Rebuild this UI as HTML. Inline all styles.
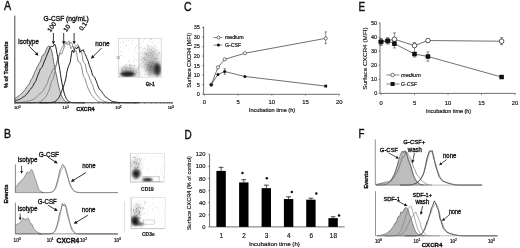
<!DOCTYPE html>
<html><head><meta charset="utf-8"><style>
html,body{margin:0;padding:0;background:#fff;}
body{width:520px;height:248px;overflow:hidden;}
svg{display:block;font-family:"Liberation Sans", sans-serif;filter:blur(0.35px);}
</style></head><body>
<svg width="520" height="248" viewBox="0 0 520 248">
<defs><filter id="b1_0" x="-50%" y="-50%" width="200%" height="200%"><feGaussianBlur stdDeviation="1.0"/></filter><filter id="b1_2" x="-50%" y="-50%" width="200%" height="200%"><feGaussianBlur stdDeviation="1.2"/></filter><filter id="b1_5" x="-50%" y="-50%" width="200%" height="200%"><feGaussianBlur stdDeviation="1.5"/></filter><filter id="b2_0" x="-50%" y="-50%" width="200%" height="200%"><feGaussianBlur stdDeviation="2.0"/></filter><filter id="b2_5" x="-50%" y="-50%" width="200%" height="200%"><feGaussianBlur stdDeviation="2.5"/></filter></defs>
<rect width="520" height="248" fill="#fff"/>
<text x="4.0" y="10.4" font-size="12.0" text-anchor="start" fill="#111" stroke="#111" stroke-width="0.4" textLength="7.2" lengthAdjust="spacingAndGlyphs">A</text>
<line x1="14.8" y1="15.7" x2="14.8" y2="102.8" stroke="#333" stroke-width="0.9"/>
<line x1="14.8" y1="102.8" x2="14.8" y2="104.39999999999999" stroke="#333" stroke-width="0.5"/>
<line x1="30.57" y1="102.8" x2="30.57" y2="103.7" stroke="#333" stroke-width="0.5"/>
<line x1="39.80" y1="102.8" x2="39.80" y2="103.7" stroke="#333" stroke-width="0.5"/>
<line x1="46.35" y1="102.8" x2="46.35" y2="103.7" stroke="#333" stroke-width="0.5"/>
<line x1="51.43" y1="102.8" x2="51.43" y2="103.7" stroke="#333" stroke-width="0.5"/>
<line x1="55.58" y1="102.8" x2="55.58" y2="103.7" stroke="#333" stroke-width="0.5"/>
<line x1="59.08" y1="102.8" x2="59.08" y2="103.7" stroke="#333" stroke-width="0.5"/>
<line x1="62.12" y1="102.8" x2="62.12" y2="103.7" stroke="#333" stroke-width="0.5"/>
<line x1="64.80" y1="102.8" x2="64.80" y2="103.7" stroke="#333" stroke-width="0.5"/>
<line x1="67.2" y1="102.8" x2="67.2" y2="104.39999999999999" stroke="#333" stroke-width="0.5"/>
<line x1="82.97" y1="102.8" x2="82.97" y2="103.7" stroke="#333" stroke-width="0.5"/>
<line x1="92.20" y1="102.8" x2="92.20" y2="103.7" stroke="#333" stroke-width="0.5"/>
<line x1="98.75" y1="102.8" x2="98.75" y2="103.7" stroke="#333" stroke-width="0.5"/>
<line x1="103.83" y1="102.8" x2="103.83" y2="103.7" stroke="#333" stroke-width="0.5"/>
<line x1="107.98" y1="102.8" x2="107.98" y2="103.7" stroke="#333" stroke-width="0.5"/>
<line x1="111.48" y1="102.8" x2="111.48" y2="103.7" stroke="#333" stroke-width="0.5"/>
<line x1="114.52" y1="102.8" x2="114.52" y2="103.7" stroke="#333" stroke-width="0.5"/>
<line x1="117.20" y1="102.8" x2="117.20" y2="103.7" stroke="#333" stroke-width="0.5"/>
<line x1="119.6" y1="102.8" x2="119.6" y2="104.39999999999999" stroke="#333" stroke-width="0.5"/>
<line x1="135.37" y1="102.8" x2="135.37" y2="103.7" stroke="#333" stroke-width="0.5"/>
<line x1="144.60" y1="102.8" x2="144.60" y2="103.7" stroke="#333" stroke-width="0.5"/>
<line x1="151.15" y1="102.8" x2="151.15" y2="103.7" stroke="#333" stroke-width="0.5"/>
<line x1="156.23" y1="102.8" x2="156.23" y2="103.7" stroke="#333" stroke-width="0.5"/>
<line x1="160.38" y1="102.8" x2="160.38" y2="103.7" stroke="#333" stroke-width="0.5"/>
<line x1="163.88" y1="102.8" x2="163.88" y2="103.7" stroke="#333" stroke-width="0.5"/>
<line x1="166.92" y1="102.8" x2="166.92" y2="103.7" stroke="#333" stroke-width="0.5"/>
<line x1="169.60" y1="102.8" x2="169.60" y2="103.7" stroke="#333" stroke-width="0.5"/>
<line x1="172.0" y1="102.8" x2="172.0" y2="104.39999999999999" stroke="#333" stroke-width="0.5"/>
<text x="14.0" y="109.3" font-size="4.2" text-anchor="start" fill="#111" stroke="#111" stroke-width="0.2">10<tspan dy="-1.4" font-size="3.02">0</tspan></text>
<text x="62.6" y="109.3" font-size="4.2" text-anchor="start" fill="#111" stroke="#111" stroke-width="0.2">10<tspan dy="-1.4" font-size="3.02">1</tspan></text>
<text x="115.2" y="109.3" font-size="4.2" text-anchor="start" fill="#111" stroke="#111" stroke-width="0.2">10<tspan dy="-1.4" font-size="3.02">2</tspan></text>
<text x="167.7" y="109.3" font-size="4.2" text-anchor="start" fill="#111" stroke="#111" stroke-width="0.2">10<tspan dy="-1.4" font-size="3.02">3</tspan></text>
<text x="76.3" y="111.3" font-size="5.5" font-weight="bold" text-anchor="start" fill="#111" stroke="#111" stroke-width="0.32" textLength="18.3" lengthAdjust="spacingAndGlyphs">CXCR4</text>
<text x="8.0" y="64.7" font-size="5.6" font-weight="bold" text-anchor="middle" fill="#111" stroke="#111" stroke-width="0.32" textLength="46.5" lengthAdjust="spacingAndGlyphs" transform="rotate(-90 8.0 64.7)">% of Total Events</text>
<path d="M15.00,98.35 L15.70,98.03 L16.40,97.59 L17.10,96.90 L17.80,96.58 L18.50,95.83 L19.20,95.57 L19.90,94.84 L20.60,94.37 L21.30,93.94 L22.00,93.01 L22.70,92.52 L23.40,91.57 L24.10,90.86 L24.80,89.73 L25.50,89.09 L26.20,87.99 L26.90,86.89 L27.60,86.15 L28.30,85.23 L29.00,84.11 L29.70,82.95 L30.40,81.33 L31.10,79.58 L31.80,78.95 L32.50,77.51 L33.20,75.71 L33.90,74.24 L34.60,72.31 L35.30,71.11 L36.00,69.99 L36.70,68.09 L37.40,66.47 L38.10,65.42 L38.80,63.95 L39.50,62.97 L40.20,61.91 L40.90,59.98 L41.60,57.74 L42.30,55.71 L43.00,55.10 L43.70,55.11 L44.40,53.53 L45.10,52.67 L45.80,50.62 L46.50,48.99 L47.20,47.44 L47.90,46.69 L48.60,45.95 L49.30,45.92 L50.00,47.17 L50.70,48.53 L51.40,50.10 L52.10,52.50 L52.80,56.78 L53.50,61.44 L54.20,64.96 L54.90,69.28 L55.60,71.65 L56.30,74.76 L57.00,77.80 L57.70,81.61 L58.40,84.98 L59.10,87.57 L59.80,90.56 L60.50,92.91 L61.20,94.87 L61.90,96.36 L62.60,97.80 L63.30,98.97 L64.00,99.87 L64.70,100.61 L65.40,101.16 L66.10,101.60 L66.80,101.94 L67.50,102.13 L68.20,102.38 L68.90,102.48 L69.60,102.55 L69.60,102.8 L15.00,102.8 Z" fill="#d0d0d0" stroke="#444" stroke-width="0.75" stroke-linejoin="round"/>
<path d="M15.00,102.68 L15.70,102.68 L16.40,102.64 L17.10,102.63 L17.80,102.55 L18.50,102.54 L19.20,102.49 L19.90,102.41 L20.60,102.40 L21.30,102.34 L22.00,102.25 L22.70,102.10 L23.40,102.04 L24.10,102.03 L24.80,101.84 L25.50,101.86 L26.20,101.63 L26.90,101.47 L27.60,101.27 L28.30,101.22 L29.00,100.84 L29.70,100.79 L30.40,100.47 L31.10,100.48 L31.80,100.08 L32.50,99.64 L33.20,99.49 L33.90,99.13 L34.60,98.71 L35.30,98.00 L36.00,97.36 L36.70,96.69 L37.40,96.04 L38.10,95.39 L38.80,94.52 L39.50,94.22 L40.20,93.77 L40.90,93.14 L41.60,92.30 L42.30,91.53 L43.00,90.26 L43.70,89.69 L44.40,88.08 L45.10,87.52 L45.80,85.86 L46.50,84.91 L47.20,83.83 L47.90,81.44 L48.60,79.13 L49.30,77.30 L50.00,75.75 L50.70,74.49 L51.40,73.09 L52.10,71.16 L52.80,69.88 L53.50,68.66 L54.20,68.49 L54.90,67.52 L55.60,65.35 L56.30,64.85 L57.00,61.29 L57.70,58.85 L58.40,56.54 L59.10,54.95 L59.80,53.00 L60.50,51.22 L61.20,49.61 L61.90,48.06 L62.60,47.03 L63.30,45.75 L64.00,43.39 L64.70,43.21 L65.40,41.69 L66.10,42.12 L66.80,43.57 L67.50,44.62 L68.20,44.35 L68.90,44.19 L69.60,44.17 L70.30,42.49 L71.00,42.37 L71.70,43.13 L72.40,44.41 L73.10,46.52 L73.80,49.02 L74.50,51.98 L75.20,51.63 L75.90,50.44 L76.60,52.81 L77.30,57.35 L78.00,61.53 L78.70,61.31 L79.40,62.08 L80.10,62.96 L80.80,64.68 L81.50,66.32 L82.20,69.96 L82.90,73.99 L83.60,76.43 L84.30,77.47 L85.00,78.64 L85.70,80.96 L86.40,83.73 L87.10,85.54 L87.80,87.58 L88.50,89.19 L89.20,90.72 L89.90,91.99 L90.60,93.49 L91.30,94.37 L92.00,95.43 L92.70,96.35 L93.40,97.41 L94.10,98.15 L94.80,98.82 L95.50,99.42 L96.20,99.93 L96.90,100.57 L97.60,101.12 L98.30,101.44 L99.00,101.67 L99.70,101.95 L100.40,102.15 L101.10,102.23 L101.80,102.41 L102.50,102.49 L103.20,102.59 L103.90,102.61 L104.60,102.66 L105.30,102.68 L106.00,102.74 L106.70,102.74 L107.40,102.76 L108.10,102.78 L108.80,102.77 L109.50,102.79 L110.20,102.79 L110.90,102.79 L111.60,102.80 L112.30,102.80 L113.00,102.79 L113.70,102.80 L114.40,102.80 L115.10,102.80 L115.80,102.80 L116.50,102.80 L117.20,102.80 L117.90,102.80 L118.60,102.80 L119.30,102.80 L120.00,102.80" fill="none" stroke="#777" stroke-width="0.85" stroke-linejoin="round"/>
<path d="M15.00,102.80 L15.70,102.80 L16.40,102.80 L17.10,102.80 L17.80,102.80 L18.50,102.80 L19.20,102.80 L19.90,102.80 L20.60,102.80 L21.30,102.80 L22.00,102.80 L22.70,102.80 L23.40,102.80 L24.10,102.80 L24.80,102.80 L25.50,102.80 L26.20,102.80 L26.90,102.80 L27.60,102.80 L28.30,102.80 L29.00,102.80 L29.70,102.80 L30.40,102.79 L31.10,102.78 L31.80,102.77 L32.50,102.77 L33.20,102.75 L33.90,102.73 L34.60,102.70 L35.30,102.65 L36.00,102.62 L36.70,102.52 L37.40,102.45 L38.10,102.35 L38.80,102.17 L39.50,101.98 L40.20,101.56 L40.90,101.34 L41.60,100.82 L42.30,100.38 L43.00,99.77 L43.70,99.00 L44.40,98.26 L45.10,97.48 L45.80,96.79 L46.50,95.48 L47.20,93.97 L47.90,92.82 L48.60,91.31 L49.30,89.89 L50.00,87.30 L50.70,84.32 L51.40,82.43 L52.10,80.64 L52.80,79.57 L53.50,76.82 L54.20,74.65 L54.90,71.49 L55.60,67.94 L56.30,65.04 L57.00,62.13 L57.70,60.42 L58.40,58.87 L59.10,55.94 L59.80,53.65 L60.50,53.61 L61.20,54.21 L61.90,53.94 L62.60,51.55 L63.30,49.76 L64.00,47.82 L64.70,45.19 L65.40,43.64 L66.10,43.63 L66.80,43.57 L67.50,42.64 L68.20,41.77 L68.90,40.72 L69.60,43.56 L70.30,46.97 L71.00,48.77 L71.70,47.78 L72.40,45.86 L73.10,47.01 L73.80,47.68 L74.50,48.12 L75.20,46.67 L75.90,45.48 L76.60,45.55 L77.30,44.58 L78.00,44.63 L78.70,46.24 L79.40,47.51 L80.10,49.04 L80.80,50.68 L81.50,52.62 L82.20,55.78 L82.90,60.17 L83.60,62.40 L84.30,62.98 L85.00,63.58 L85.70,66.03 L86.40,70.19 L87.10,72.66 L87.80,73.68 L88.50,75.13 L89.20,76.95 L89.90,79.05 L90.60,80.26 L91.30,82.49 L92.00,83.83 L92.70,85.50 L93.40,87.61 L94.10,89.89 L94.80,91.79 L95.50,93.12 L96.20,94.12 L96.90,94.90 L97.60,95.95 L98.30,96.83 L99.00,97.70 L99.70,98.48 L100.40,99.35 L101.10,99.85 L101.80,100.31 L102.50,100.71 L103.20,100.95 L103.90,101.26 L104.60,101.44 L105.30,101.66 L106.00,101.89 L106.70,102.10 L107.40,102.28 L108.10,102.39 L108.80,102.49 L109.50,102.51 L110.20,102.57 L110.90,102.62 L111.60,102.65 L112.30,102.70 L113.00,102.74 L113.70,102.74 L114.40,102.76 L115.10,102.76 L115.80,102.78 L116.50,102.79 L117.20,102.79 L117.90,102.79 L118.60,102.80 L119.30,102.79 L120.00,102.80" fill="none" stroke="#777" stroke-width="0.85" stroke-linejoin="round"/>
<path d="M15.00,100.96 L15.70,100.81 L16.40,100.40 L17.10,100.29 L17.80,100.02 L18.50,99.87 L19.20,99.41 L19.90,99.13 L20.60,98.79 L21.30,98.49 L22.00,97.83 L22.70,97.25 L23.40,96.91 L24.10,96.56 L24.80,96.14 L25.50,95.38 L26.20,94.31 L26.90,93.76 L27.60,93.28 L28.30,92.23 L29.00,91.05 L29.70,89.97 L30.40,89.36 L31.10,88.17 L31.80,87.78 L32.50,86.62 L33.20,85.48 L33.90,83.80 L34.60,82.81 L35.30,81.64 L36.00,80.65 L36.70,78.53 L37.40,76.50 L38.10,74.42 L38.80,72.96 L39.50,71.53 L40.20,69.29 L40.90,68.25 L41.60,67.69 L42.30,67.04 L43.00,64.75 L43.70,63.08 L44.40,60.98 L45.10,59.98 L45.80,57.50 L46.50,56.33 L47.20,54.17 L47.90,52.94 L48.60,50.98 L49.30,49.08 L50.00,47.78 L50.70,46.60 L51.40,46.46 L52.10,46.63 L52.80,46.37 L53.50,46.08 L54.20,44.29 L54.90,44.30 L55.60,46.24 L56.30,49.38 L57.00,53.64 L57.70,56.81 L58.40,61.74 L59.10,65.54 L59.80,69.64 L60.50,74.38 L61.20,78.63 L61.90,82.77 L62.60,86.25 L63.30,89.15 L64.00,92.55 L64.70,94.88 L65.40,96.62 L66.10,98.26 L66.80,99.31 L67.50,100.32 L68.20,100.92 L68.90,101.55 L69.60,101.89 L70.30,102.16 L71.00,102.43 L71.70,102.50 L72.40,102.65 L73.10,102.67 L73.80,102.75 L74.50,102.76 L75.20,102.76 L75.90,102.78 L76.60,102.79 L77.30,102.80 L78.00,102.80 L78.70,102.80 L79.40,102.80 L80.10,102.80 L80.80,102.80 L81.50,102.80 L82.20,102.80 L82.90,102.80 L83.60,102.80 L84.30,102.80 L85.00,102.80" fill="none" stroke="#1a1a1a" stroke-width="1.0" stroke-linejoin="round"/>
<path d="M40.00,102.80 L40.70,102.80 L41.40,102.80 L42.10,102.80 L42.80,102.80 L43.50,102.80 L44.20,102.79 L44.90,102.79 L45.60,102.79 L46.30,102.78 L47.00,102.75 L47.70,102.77 L48.40,102.74 L49.10,102.69 L49.80,102.63 L50.50,102.57 L51.20,102.49 L51.90,102.36 L52.60,102.25 L53.30,102.07 L54.00,101.88 L54.70,101.63 L55.40,101.23 L56.10,100.66 L56.80,100.16 L57.50,99.37 L58.20,98.55 L58.90,97.51 L59.60,96.25 L60.30,94.52 L61.00,93.01 L61.70,91.28 L62.40,89.06 L63.10,87.76 L63.80,85.63 L64.50,83.53 L65.20,81.09 L65.90,78.32 L66.60,73.54 L67.30,70.08 L68.00,67.77 L68.70,65.85 L69.40,64.09 L70.10,62.70 L70.80,58.53 L71.50,53.65 L72.20,50.27 L72.90,51.05 L73.60,52.62 L74.30,49.84 L75.00,48.44 L75.70,47.66 L76.40,48.50 L77.10,48.62 L77.80,46.73 L78.50,46.61 L79.20,48.75 L79.90,52.45 L80.60,51.10 L81.30,50.85 L82.00,50.02 L82.70,50.20 L83.40,49.75 L84.10,52.20 L84.80,53.59 L85.50,54.82 L86.20,56.43 L86.90,58.39 L87.60,59.82 L88.30,61.42 L89.00,64.34 L89.70,66.14 L90.40,68.54 L91.10,69.91 L91.80,72.34 L92.50,75.37 L93.20,75.87 L93.90,76.38 L94.60,77.21 L95.30,78.92 L96.00,80.53 L96.70,82.44 L97.40,84.33 L98.10,86.20 L98.80,88.09 L99.50,89.48 L100.20,89.95 L100.90,90.40 L101.60,91.34 L102.30,92.72 L103.00,93.36 L103.70,94.48 L104.40,95.57 L105.10,96.31 L105.80,97.33 L106.50,97.46 L107.20,98.00 L107.90,98.57 L108.60,99.17 L109.30,99.71 L110.00,100.06 L110.70,100.51 L111.40,101.00 L112.10,101.22 L112.80,101.40 L113.50,101.50 L114.20,101.61 L114.90,101.87 L115.60,102.00 L116.30,102.08 L117.00,102.29 L117.70,102.36 L118.40,102.38 L119.10,102.44 L119.80,102.55 L120.50,102.61 L121.20,102.64 L121.90,102.67 L122.60,102.70 L123.30,102.69 L124.00,102.74 L124.70,102.75 L125.40,102.74 L126.10,102.77 L126.80,102.77 L127.50,102.77 L128.20,102.78 L128.90,102.77 L129.60,102.79 L130.30,102.80 L131.00,102.80 L131.70,102.79 L132.40,102.80 L133.10,102.80 L133.80,102.79 L134.50,102.80 L135.20,102.80 L135.90,102.80 L136.60,102.80 L137.30,102.80 L138.00,102.80 L138.70,102.80 L139.40,102.80" fill="none" stroke="#1a1a1a" stroke-width="1.0" stroke-linejoin="round"/>
<line x1="14.8" y1="102.8" x2="173" y2="102.8" stroke="#222" stroke-width="0.9"/>
<text x="43.6" y="21.0" font-size="6.5" text-anchor="start" fill="#111" stroke="#111" stroke-width="0.32" textLength="45.2" lengthAdjust="spacingAndGlyphs">G-CSF (ng/mL)</text>
<text x="50.6" y="32.4" font-size="6.3" text-anchor="start" fill="#111" stroke="#111" stroke-width="0.32" transform="rotate(-55 50.6 32.4)">100</text>
<text x="66.4" y="32.2" font-size="6.3" text-anchor="start" fill="#111" stroke="#111" stroke-width="0.32" transform="rotate(-55 66.4 32.2)">10</text>
<text x="82.2" y="31.0" font-size="6.3" text-anchor="start" fill="#111" stroke="#111" stroke-width="0.32" transform="rotate(-55 82.2 31.0)">0.1</text>
<line x1="53.4" y1="33.0" x2="53.40" y2="41.64" stroke="#111" stroke-width="0.84"/>
<polygon points="53.40,44.50 51.79,41.14 55.01,41.14" fill="#111"/>
<line x1="63.7" y1="33.0" x2="63.70" y2="41.64" stroke="#111" stroke-width="0.84"/>
<polygon points="63.70,44.50 62.09,41.14 65.31,41.14" fill="#111"/>
<line x1="74.1" y1="33.0" x2="74.10" y2="41.64" stroke="#111" stroke-width="0.84"/>
<polygon points="74.10,44.50 72.49,41.14 75.71,41.14" fill="#111"/>
<text x="18.0" y="43.75" font-size="6.5" text-anchor="start" fill="#111" stroke="#111" stroke-width="0.32" textLength="20.8" lengthAdjust="spacingAndGlyphs">Isotype</text>
<line x1="29.5" y1="46.5" x2="36.36" y2="53.58" stroke="#111" stroke-width="0.84"/>
<polygon points="38.50,55.80 34.77,54.42 37.25,52.02" fill="#111"/>
<text x="95.3" y="45.8" font-size="6.8" text-anchor="start" fill="#111" stroke="#111" stroke-width="0.32" textLength="14.3" lengthAdjust="spacingAndGlyphs">none</text>
<line x1="101.5" y1="48.1" x2="93.07" y2="56.61" stroke="#111" stroke-width="0.84"/>
<polygon points="90.90,58.80 92.20,55.04 94.65,57.47" fill="#111"/>
<clipPath id="ca"><rect x="118.5" y="38.5" width="42.7" height="38.6"/></clipPath>
<rect x="118.5" y="38.5" width="42.7" height="38.6" fill="#fff" stroke="#bbb" stroke-width="0.5"/>
<g clip-path="url(#ca)"><ellipse cx="151" cy="61" rx="9" ry="13" fill="#000" fill-opacity="0.2" filter="url(#b2_5)"/></g>
<g clip-path="url(#ca)"><ellipse cx="129" cy="72" rx="9" ry="4.5" fill="#000" fill-opacity="0.35" filter="url(#b2_5)"/></g>
<g clip-path="url(#ca)"><ellipse cx="127.5" cy="74.2" rx="7.0" ry="2.6" fill="#000" fill-opacity="0.85" filter="url(#b1_2)"/></g>
<g clip-path="url(#ca)"><ellipse cx="157.5" cy="69.5" rx="3.5" ry="6.5" fill="#000" fill-opacity="0.8" filter="url(#b1_5)"/></g>
<g clip-path="url(#ca)"><ellipse cx="152" cy="68" rx="5" ry="7" fill="#000" fill-opacity="0.35" filter="url(#b2_0)"/></g>
<g clip-path="url(#ca)">
<circle cx="125.9" cy="64.9" r="0.3" fill="#888"/>
<circle cx="145.5" cy="57.0" r="0.3" fill="#888"/>
<circle cx="128.0" cy="68.7" r="0.3" fill="#888"/>
<circle cx="152.7" cy="58.2" r="0.3" fill="#888"/>
<circle cx="140.1" cy="47.9" r="0.3" fill="#888"/>
<circle cx="119.1" cy="52.9" r="0.3" fill="#888"/>
<circle cx="143.4" cy="41.6" r="0.3" fill="#888"/>
<circle cx="152.1" cy="47.7" r="0.3" fill="#888"/>
<circle cx="128.7" cy="40.6" r="0.3" fill="#888"/>
<circle cx="160.6" cy="66.7" r="0.3" fill="#888"/>
<circle cx="155.5" cy="62.1" r="0.3" fill="#888"/>
<circle cx="120.4" cy="51.3" r="0.3" fill="#888"/>
<circle cx="139.7" cy="43.3" r="0.3" fill="#888"/>
<circle cx="158.7" cy="52.8" r="0.3" fill="#888"/>
<circle cx="125.5" cy="69.7" r="0.3" fill="#888"/>
<circle cx="124.2" cy="73.8" r="0.3" fill="#888"/>
<circle cx="137.9" cy="59.7" r="0.3" fill="#888"/>
<circle cx="133.3" cy="57.2" r="0.3" fill="#888"/>
<circle cx="126.8" cy="40.4" r="0.3" fill="#888"/>
<circle cx="155.1" cy="47.8" r="0.3" fill="#888"/>
<circle cx="151.5" cy="46.8" r="0.3" fill="#888"/>
<circle cx="159.4" cy="72.5" r="0.3" fill="#888"/>
<circle cx="150.5" cy="67.6" r="0.3" fill="#888"/>
<circle cx="143.2" cy="66.4" r="0.3" fill="#888"/>
<circle cx="124.1" cy="56.9" r="0.3" fill="#888"/>
<circle cx="153.5" cy="46.5" r="0.3" fill="#888"/>
<circle cx="157.5" cy="72.3" r="0.3" fill="#888"/>
<circle cx="136.1" cy="52.7" r="0.3" fill="#888"/>
<circle cx="137.8" cy="53.5" r="0.3" fill="#888"/>
<circle cx="160.5" cy="53.5" r="0.3" fill="#888"/>
<circle cx="120.1" cy="42.5" r="0.3" fill="#888"/>
<circle cx="148.9" cy="76.2" r="0.3" fill="#888"/>
<circle cx="139.7" cy="57.4" r="0.3" fill="#888"/>
<circle cx="142.0" cy="67.1" r="0.3" fill="#888"/>
<circle cx="128.3" cy="61.8" r="0.3" fill="#888"/>
<circle cx="142.2" cy="62.3" r="0.3" fill="#888"/>
<circle cx="126.5" cy="45.4" r="0.3" fill="#888"/>
<circle cx="133.5" cy="73.8" r="0.3" fill="#888"/>
<circle cx="133.5" cy="61.4" r="0.3" fill="#888"/>
<circle cx="131.8" cy="42.9" r="0.3" fill="#888"/>
<circle cx="121.7" cy="69.5" r="0.3" fill="#888"/>
<circle cx="151.4" cy="53.1" r="0.3" fill="#888"/>
<circle cx="147.5" cy="64.3" r="0.3" fill="#888"/>
<circle cx="156.5" cy="74.9" r="0.3" fill="#888"/>
<circle cx="136.0" cy="76.1" r="0.3" fill="#888"/>
<circle cx="159.1" cy="61.1" r="0.3" fill="#888"/>
<circle cx="155.8" cy="57.4" r="0.3" fill="#888"/>
<circle cx="134.7" cy="48.3" r="0.3" fill="#888"/>
<circle cx="155.5" cy="45.1" r="0.3" fill="#888"/>
<circle cx="121.9" cy="69.2" r="0.3" fill="#888"/>
<circle cx="151.3" cy="57.1" r="0.3" fill="#888"/>
<circle cx="153.9" cy="41.0" r="0.3" fill="#888"/>
<circle cx="129.8" cy="49.9" r="0.3" fill="#888"/>
<circle cx="136.5" cy="45.4" r="0.3" fill="#888"/>
<circle cx="121.9" cy="51.7" r="0.3" fill="#888"/>
<circle cx="156.5" cy="75.9" r="0.3" fill="#888"/>
<circle cx="150.1" cy="57.0" r="0.3" fill="#888"/>
<circle cx="129.5" cy="75.0" r="0.3" fill="#888"/>
<circle cx="140.9" cy="66.3" r="0.3" fill="#888"/>
<circle cx="120.2" cy="47.0" r="0.3" fill="#888"/>
<circle cx="154.0" cy="68.8" r="0.3" fill="#888"/>
<circle cx="155.8" cy="61.6" r="0.3" fill="#888"/>
<circle cx="136.8" cy="60.8" r="0.3" fill="#888"/>
<circle cx="154.4" cy="50.5" r="0.3" fill="#888"/>
<circle cx="141.3" cy="49.3" r="0.3" fill="#888"/>
<circle cx="151.0" cy="39.4" r="0.3" fill="#888"/>
<circle cx="147.6" cy="74.8" r="0.3" fill="#888"/>
<circle cx="120.0" cy="61.3" r="0.3" fill="#888"/>
<circle cx="145.8" cy="70.9" r="0.3" fill="#888"/>
<circle cx="143.4" cy="48.6" r="0.3" fill="#888"/>
<circle cx="135.9" cy="75.0" r="0.3" fill="#888"/>
<circle cx="156.8" cy="44.0" r="0.3" fill="#888"/>
<circle cx="123.0" cy="42.5" r="0.3" fill="#888"/>
<circle cx="120.1" cy="55.8" r="0.3" fill="#888"/>
<circle cx="124.9" cy="71.5" r="0.3" fill="#888"/>
<circle cx="146.3" cy="43.7" r="0.3" fill="#888"/>
<circle cx="141.5" cy="51.2" r="0.3" fill="#888"/>
<circle cx="139.6" cy="47.2" r="0.3" fill="#888"/>
<circle cx="125.9" cy="45.9" r="0.3" fill="#888"/>
<circle cx="134.8" cy="65.6" r="0.3" fill="#888"/>
<circle cx="141.9" cy="40.7" r="0.3" fill="#888"/>
<circle cx="148.6" cy="71.8" r="0.3" fill="#888"/>
<circle cx="151.3" cy="68.7" r="0.3" fill="#888"/>
<circle cx="119.3" cy="56.4" r="0.3" fill="#888"/>
<circle cx="121.6" cy="67.6" r="0.3" fill="#888"/>
<circle cx="126.3" cy="65.7" r="0.3" fill="#888"/>
<circle cx="129.5" cy="65.1" r="0.3" fill="#888"/>
<circle cx="132.1" cy="40.6" r="0.3" fill="#888"/>
<circle cx="135.2" cy="50.6" r="0.3" fill="#888"/>
<circle cx="156.6" cy="50.1" r="0.3" fill="#888"/>
<circle cx="140.0" cy="59.6" r="0.3" fill="#888"/>
<circle cx="158.5" cy="42.7" r="0.3" fill="#888"/>
<circle cx="144.1" cy="58.1" r="0.3" fill="#888"/>
<circle cx="149.6" cy="75.3" r="0.3" fill="#888"/>
<circle cx="131.9" cy="65.2" r="0.3" fill="#888"/>
<circle cx="140.9" cy="60.0" r="0.3" fill="#888"/>
<circle cx="121.7" cy="69.6" r="0.3" fill="#888"/>
<circle cx="159.7" cy="52.3" r="0.3" fill="#888"/>
<circle cx="132.3" cy="76.2" r="0.3" fill="#888"/>
<circle cx="123.5" cy="41.9" r="0.3" fill="#888"/>
<circle cx="122.1" cy="69.5" r="0.3" fill="#888"/>
<circle cx="150.7" cy="55.8" r="0.3" fill="#888"/>
<circle cx="144.9" cy="39.7" r="0.3" fill="#888"/>
<circle cx="145.9" cy="55.6" r="0.3" fill="#888"/>
<circle cx="140.6" cy="53.6" r="0.3" fill="#888"/>
<circle cx="135.7" cy="47.5" r="0.3" fill="#888"/>
<circle cx="121.0" cy="55.3" r="0.3" fill="#888"/>
<circle cx="129.3" cy="65.4" r="0.3" fill="#888"/>
<circle cx="153.1" cy="66.1" r="0.3" fill="#888"/>
<circle cx="138.0" cy="47.9" r="0.3" fill="#888"/>
<circle cx="147.3" cy="45.3" r="0.3" fill="#555"/>
<circle cx="153.1" cy="74.6" r="0.3" fill="#555"/>
<circle cx="158.5" cy="70.3" r="0.3" fill="#555"/>
<circle cx="155.5" cy="73.5" r="0.3" fill="#555"/>
<circle cx="148.4" cy="46.9" r="0.3" fill="#555"/>
<circle cx="138.8" cy="68.5" r="0.3" fill="#555"/>
<circle cx="153.0" cy="61.7" r="0.3" fill="#555"/>
<circle cx="135.0" cy="59.6" r="0.3" fill="#555"/>
<circle cx="149.6" cy="52.3" r="0.3" fill="#555"/>
<circle cx="158.7" cy="69.8" r="0.3" fill="#555"/>
<circle cx="151.9" cy="57.6" r="0.3" fill="#555"/>
<circle cx="147.6" cy="68.8" r="0.3" fill="#555"/>
<circle cx="144.5" cy="59.8" r="0.3" fill="#555"/>
<circle cx="152.5" cy="63.7" r="0.3" fill="#555"/>
<circle cx="144.5" cy="48.1" r="0.3" fill="#555"/>
<circle cx="153.0" cy="56.5" r="0.3" fill="#555"/>
<circle cx="149.4" cy="41.6" r="0.3" fill="#555"/>
<circle cx="155.8" cy="67.8" r="0.3" fill="#555"/>
<circle cx="151.9" cy="66.1" r="0.3" fill="#555"/>
<circle cx="141.1" cy="63.7" r="0.3" fill="#555"/>
<circle cx="153.1" cy="61.2" r="0.3" fill="#555"/>
<circle cx="129.3" cy="60.9" r="0.3" fill="#555"/>
<circle cx="150.7" cy="51.0" r="0.3" fill="#555"/>
<circle cx="150.4" cy="74.7" r="0.3" fill="#555"/>
<circle cx="149.4" cy="74.9" r="0.3" fill="#555"/>
<circle cx="146.4" cy="54.8" r="0.3" fill="#555"/>
<circle cx="151.7" cy="53.2" r="0.3" fill="#555"/>
<circle cx="138.9" cy="65.3" r="0.3" fill="#555"/>
<circle cx="150.0" cy="67.8" r="0.3" fill="#555"/>
<circle cx="144.3" cy="57.7" r="0.3" fill="#555"/>
<circle cx="153.2" cy="57.2" r="0.3" fill="#555"/>
<circle cx="148.6" cy="64.2" r="0.3" fill="#555"/>
<circle cx="145.1" cy="64.4" r="0.3" fill="#555"/>
<circle cx="140.3" cy="66.8" r="0.3" fill="#555"/>
<circle cx="147.4" cy="46.0" r="0.3" fill="#555"/>
<circle cx="142.4" cy="59.2" r="0.3" fill="#555"/>
<circle cx="144.9" cy="66.9" r="0.3" fill="#555"/>
<circle cx="150.9" cy="69.5" r="0.3" fill="#555"/>
<circle cx="148.5" cy="69.8" r="0.3" fill="#555"/>
<circle cx="159.0" cy="53.1" r="0.3" fill="#555"/>
<circle cx="149.3" cy="60.7" r="0.3" fill="#555"/>
<circle cx="149.4" cy="73.2" r="0.3" fill="#555"/>
<circle cx="147.8" cy="53.2" r="0.3" fill="#555"/>
<circle cx="141.2" cy="47.5" r="0.3" fill="#555"/>
<circle cx="149.4" cy="70.8" r="0.3" fill="#555"/>
<circle cx="150.3" cy="54.1" r="0.3" fill="#555"/>
<circle cx="148.9" cy="53.1" r="0.3" fill="#555"/>
<circle cx="156.6" cy="63.2" r="0.3" fill="#555"/>
<circle cx="159.6" cy="68.5" r="0.3" fill="#555"/>
<circle cx="154.1" cy="52.9" r="0.3" fill="#555"/>
<circle cx="153.3" cy="58.3" r="0.3" fill="#555"/>
<circle cx="146.5" cy="63.9" r="0.3" fill="#555"/>
<circle cx="160.7" cy="67.1" r="0.3" fill="#555"/>
<circle cx="141.3" cy="57.1" r="0.3" fill="#555"/>
<circle cx="150.8" cy="57.9" r="0.3" fill="#555"/>
<circle cx="151.4" cy="66.5" r="0.3" fill="#555"/>
<circle cx="147.6" cy="61.9" r="0.3" fill="#555"/>
<circle cx="152.1" cy="51.9" r="0.3" fill="#555"/>
<circle cx="148.7" cy="55.4" r="0.3" fill="#555"/>
<circle cx="146.3" cy="53.8" r="0.3" fill="#555"/>
<circle cx="146.3" cy="54.6" r="0.3" fill="#555"/>
<circle cx="152.7" cy="54.9" r="0.3" fill="#555"/>
<circle cx="151.3" cy="66.8" r="0.3" fill="#555"/>
<circle cx="150.9" cy="74.4" r="0.3" fill="#555"/>
<circle cx="150.0" cy="69.7" r="0.3" fill="#555"/>
<circle cx="149.9" cy="49.7" r="0.3" fill="#555"/>
<circle cx="154.2" cy="59.8" r="0.3" fill="#555"/>
<circle cx="149.7" cy="65.2" r="0.3" fill="#555"/>
<circle cx="143.7" cy="58.0" r="0.3" fill="#555"/>
<circle cx="144.5" cy="74.8" r="0.3" fill="#555"/>
<circle cx="148.7" cy="57.1" r="0.3" fill="#555"/>
<circle cx="153.5" cy="63.6" r="0.3" fill="#555"/>
<circle cx="154.0" cy="48.7" r="0.3" fill="#555"/>
<circle cx="150.6" cy="68.5" r="0.3" fill="#555"/>
<circle cx="146.8" cy="74.7" r="0.3" fill="#555"/>
<circle cx="150.0" cy="55.4" r="0.3" fill="#555"/>
<circle cx="147.9" cy="67.8" r="0.3" fill="#555"/>
<circle cx="157.2" cy="58.2" r="0.3" fill="#555"/>
<circle cx="154.2" cy="59.5" r="0.3" fill="#555"/>
<circle cx="144.8" cy="53.4" r="0.3" fill="#555"/>
<circle cx="155.2" cy="58.4" r="0.3" fill="#555"/>
<circle cx="156.8" cy="58.9" r="0.3" fill="#555"/>
<circle cx="148.7" cy="65.3" r="0.3" fill="#555"/>
<circle cx="137.2" cy="69.0" r="0.3" fill="#555"/>
<circle cx="145.9" cy="69.7" r="0.3" fill="#555"/>
<circle cx="145.9" cy="59.4" r="0.3" fill="#555"/>
<circle cx="155.6" cy="68.9" r="0.3" fill="#555"/>
<circle cx="153.9" cy="51.6" r="0.3" fill="#555"/>
<circle cx="147.5" cy="66.6" r="0.3" fill="#555"/>
<circle cx="147.4" cy="48.9" r="0.3" fill="#555"/>
<circle cx="150.7" cy="66.8" r="0.3" fill="#555"/>
<circle cx="158.5" cy="73.1" r="0.3" fill="#555"/>
<circle cx="155.4" cy="54.8" r="0.3" fill="#555"/>
<circle cx="142.8" cy="52.9" r="0.3" fill="#555"/>
<circle cx="154.0" cy="71.1" r="0.3" fill="#555"/>
<circle cx="138.5" cy="67.8" r="0.3" fill="#555"/>
<circle cx="155.2" cy="71.6" r="0.3" fill="#555"/>
<circle cx="151.9" cy="59.7" r="0.3" fill="#555"/>
<circle cx="149.4" cy="62.1" r="0.3" fill="#555"/>
<circle cx="143.1" cy="61.4" r="0.3" fill="#555"/>
<circle cx="156.7" cy="59.4" r="0.3" fill="#555"/>
<circle cx="158.2" cy="54.2" r="0.3" fill="#555"/>
<circle cx="153.0" cy="55.0" r="0.3" fill="#555"/>
<circle cx="157.0" cy="69.3" r="0.3" fill="#555"/>
<circle cx="156.4" cy="70.2" r="0.3" fill="#555"/>
<circle cx="153.5" cy="73.1" r="0.3" fill="#555"/>
<circle cx="151.6" cy="39.2" r="0.3" fill="#555"/>
<circle cx="151.1" cy="67.3" r="0.3" fill="#555"/>
<circle cx="135.8" cy="73.6" r="0.3" fill="#555"/>
<circle cx="149.8" cy="72.2" r="0.3" fill="#555"/>
<circle cx="148.4" cy="64.2" r="0.3" fill="#555"/>
<circle cx="145.0" cy="60.1" r="0.3" fill="#555"/>
<circle cx="140.3" cy="64.8" r="0.3" fill="#555"/>
<circle cx="147.8" cy="56.1" r="0.3" fill="#555"/>
<circle cx="145.5" cy="53.1" r="0.3" fill="#555"/>
<circle cx="150.0" cy="61.3" r="0.3" fill="#555"/>
<circle cx="148.3" cy="75.2" r="0.3" fill="#555"/>
<circle cx="143.3" cy="58.2" r="0.3" fill="#555"/>
<circle cx="141.8" cy="59.7" r="0.3" fill="#555"/>
<circle cx="149.0" cy="45.0" r="0.3" fill="#555"/>
<circle cx="152.3" cy="42.7" r="0.3" fill="#555"/>
<circle cx="146.7" cy="59.5" r="0.3" fill="#555"/>
<circle cx="141.8" cy="75.1" r="0.3" fill="#555"/>
<circle cx="151.2" cy="49.6" r="0.3" fill="#555"/>
<circle cx="119.8" cy="76.4" r="0.3" fill="#555"/>
<circle cx="129.9" cy="67.7" r="0.3" fill="#555"/>
<circle cx="132.9" cy="65.9" r="0.3" fill="#555"/>
<circle cx="139.9" cy="72.6" r="0.3" fill="#555"/>
<circle cx="127.8" cy="73.4" r="0.3" fill="#555"/>
<circle cx="122.1" cy="72.4" r="0.3" fill="#555"/>
<circle cx="133.4" cy="74.3" r="0.3" fill="#555"/>
<circle cx="131.0" cy="65.8" r="0.3" fill="#555"/>
<circle cx="129.9" cy="64.6" r="0.3" fill="#555"/>
<circle cx="129.4" cy="67.7" r="0.3" fill="#555"/>
<circle cx="124.4" cy="73.5" r="0.3" fill="#555"/>
<circle cx="126.5" cy="68.6" r="0.3" fill="#555"/>
<circle cx="123.5" cy="67.9" r="0.3" fill="#555"/>
<circle cx="129.1" cy="72.2" r="0.3" fill="#555"/>
<circle cx="126.1" cy="70.4" r="0.3" fill="#555"/>
<circle cx="122.5" cy="68.1" r="0.3" fill="#555"/>
<circle cx="135.1" cy="75.8" r="0.3" fill="#555"/>
<circle cx="131.0" cy="70.6" r="0.3" fill="#555"/>
<circle cx="129.4" cy="67.4" r="0.3" fill="#555"/>
<circle cx="122.3" cy="72.3" r="0.3" fill="#555"/>
<circle cx="122.6" cy="71.8" r="0.3" fill="#555"/>
<circle cx="122.3" cy="69.9" r="0.3" fill="#555"/>
<circle cx="136.6" cy="72.6" r="0.3" fill="#555"/>
<circle cx="127.7" cy="71.2" r="0.3" fill="#555"/>
<circle cx="120.3" cy="74.0" r="0.3" fill="#555"/>
<circle cx="124.2" cy="66.8" r="0.3" fill="#555"/>
<circle cx="124.5" cy="70.4" r="0.3" fill="#555"/>
<circle cx="124.6" cy="67.5" r="0.3" fill="#555"/>
<circle cx="130.4" cy="70.8" r="0.3" fill="#555"/>
<circle cx="134.3" cy="73.3" r="0.3" fill="#555"/>
<circle cx="134.2" cy="65.5" r="0.3" fill="#555"/>
<circle cx="128.5" cy="72.2" r="0.3" fill="#555"/>
<circle cx="132.6" cy="68.8" r="0.3" fill="#555"/>
<circle cx="131.2" cy="74.5" r="0.3" fill="#555"/>
<circle cx="123.4" cy="66.6" r="0.3" fill="#555"/>
<circle cx="123.9" cy="71.0" r="0.3" fill="#555"/>
<circle cx="122.5" cy="70.1" r="0.3" fill="#555"/>
<circle cx="125.7" cy="66.0" r="0.3" fill="#555"/>
<circle cx="134.4" cy="74.3" r="0.3" fill="#555"/>
<circle cx="120.1" cy="73.6" r="0.3" fill="#555"/>
<circle cx="126.3" cy="65.0" r="0.3" fill="#555"/>
<circle cx="125.2" cy="68.2" r="0.3" fill="#555"/>
<circle cx="136.2" cy="70.7" r="0.3" fill="#555"/>
<circle cx="127.9" cy="71.9" r="0.3" fill="#555"/>
<circle cx="130.5" cy="65.0" r="0.3" fill="#555"/>
<circle cx="133.9" cy="71.0" r="0.3" fill="#555"/>
<circle cx="126.5" cy="69.0" r="0.3" fill="#555"/>
<circle cx="127.1" cy="67.8" r="0.3" fill="#555"/>
<circle cx="125.3" cy="72.4" r="0.3" fill="#555"/>
<circle cx="133.6" cy="73.0" r="0.3" fill="#555"/>
<circle cx="126.8" cy="67.4" r="0.3" fill="#555"/>
<circle cx="130.4" cy="68.5" r="0.3" fill="#555"/>
<circle cx="137.8" cy="74.0" r="0.3" fill="#555"/>
<circle cx="126.6" cy="72.1" r="0.3" fill="#555"/>
</g>
<line x1="139" y1="38.5" x2="139" y2="77.1" stroke="#aaa" stroke-width="0.6"/>
<text x="116.3" y="59.0" font-size="3.0" text-anchor="start" fill="#777" stroke="#777" stroke-width="0.05">10</text>
<text x="145.8" y="85.6" font-size="4.8" font-weight="bold" text-anchor="start" fill="#111" stroke="#111" stroke-width="0.32" textLength="9.0" lengthAdjust="spacingAndGlyphs">Gr-1</text>
<text x="4.0" y="138.4" font-size="12.0" text-anchor="start" fill="#111" stroke="#111" stroke-width="0.45" textLength="7.0" lengthAdjust="spacingAndGlyphs">B</text>
<text x="8.2" y="194.0" font-size="5.6" font-weight="bold" text-anchor="middle" fill="#111" stroke="#111" stroke-width="0.32" textLength="19.0" lengthAdjust="spacingAndGlyphs" transform="rotate(-90 8.2 194.0)">Events</text>
<line x1="15.4" y1="164.3" x2="15.4" y2="192.6" stroke="#555" stroke-width="0.7"/>
<path d="M15.40,186.53 L16.10,186.30 L16.80,185.41 L17.50,184.54 L18.20,183.98 L18.90,182.95 L19.60,182.84 L20.30,181.69 L21.00,180.80 L21.70,179.94 L22.40,179.32 L23.10,178.77 L23.80,178.17 L24.50,176.99 L25.20,175.43 L25.90,174.23 L26.60,172.60 L27.30,172.06 L28.00,172.48 L28.70,173.58 L29.40,172.14 L30.10,170.94 L30.80,170.12 L31.50,169.45 L32.20,170.08 L32.90,171.47 L33.60,174.30 L34.30,175.78 L35.00,178.37 L35.70,179.69 L36.40,181.87 L37.10,184.30 L37.80,186.50 L38.50,188.44 L39.20,189.90 L39.90,190.80 L40.60,191.24 L41.30,191.68 L42.00,192.07 L42.70,192.29 L43.40,192.37 L43.40,192.6 L15.40,192.6 Z" fill="#c4c4c4" stroke="#666" stroke-width="0.6" stroke-linejoin="round"/>
<path d="M41.00,192.60 L41.70,192.60 L42.40,192.60 L43.10,192.60 L43.80,192.60 L44.50,192.60 L45.20,192.60 L45.90,192.60 L46.60,192.60 L47.30,192.59 L48.00,192.57 L48.70,192.55 L49.40,192.51 L50.10,192.44 L50.80,192.35 L51.50,192.16 L52.20,191.86 L52.90,191.28 L53.60,190.73 L54.30,189.70 L55.00,188.72 L55.70,187.04 L56.40,184.84 L57.10,182.20 L57.80,179.26 L58.50,176.48 L59.20,173.55 L59.90,170.32 L60.60,168.73 L61.30,167.78 L62.00,165.63 L62.70,164.40 L63.40,165.05 L64.10,166.20 L64.80,167.41 L65.50,169.76 L66.20,172.18 L66.90,174.40 L67.60,176.81 L68.30,178.84 L69.00,181.31 L69.70,183.55 L70.40,185.40 L71.10,187.09 L71.80,188.38 L72.50,189.40 L73.20,190.38 L73.90,190.91 L74.60,191.43 L75.30,191.72 L76.00,192.04 L76.70,192.24 L77.40,192.37 L78.10,192.44 L78.80,192.53 L79.50,192.55 L80.20,192.56 L80.90,192.59 L81.60,192.58 L82.30,192.59 L83.00,192.60 L83.70,192.60 L84.40,192.60 L85.10,192.60 L85.80,192.60 L86.50,192.60 L87.20,192.60 L87.90,192.60 L88.60,192.60 L89.30,192.60 L90.00,192.60 L90.70,192.60 L91.40,192.60 L92.10,192.60 L92.80,192.60 L93.50,192.60 L94.20,192.60 L94.90,192.60 L95.60,192.60 L96.30,192.60 L97.00,192.60 L97.70,192.60 L98.40,192.60 L99.10,192.60 L99.80,192.60 L100.50,192.60 L101.20,192.60 L101.90,192.60 L102.60,192.60 L103.30,192.60 L104.00,192.60 L104.70,192.60 L105.40,192.60 L106.10,192.60 L106.80,192.60 L107.50,192.60 L108.20,192.60 L108.90,192.60 L109.60,192.60 L110.30,192.60 L111.00,192.60 L111.70,192.60 L112.40,192.60 L113.10,192.60 L113.80,192.60 L114.50,192.60 L115.20,192.60 L115.90,192.60 L116.60,192.60 L117.30,192.60 L118.00,192.60" fill="none" stroke="#555" stroke-width="0.75" stroke-linejoin="round"/>
<path d="M41.00,192.60 L41.70,192.60 L42.40,192.60 L43.10,192.60 L43.80,192.60 L44.50,192.60 L45.20,192.60 L45.90,192.60 L46.60,192.60 L47.30,192.59 L48.00,192.58 L48.70,192.56 L49.40,192.55 L50.10,192.51 L50.80,192.41 L51.50,192.26 L52.20,192.03 L52.90,191.69 L53.60,191.22 L54.30,190.53 L55.00,189.52 L55.70,188.38 L56.40,186.84 L57.10,184.84 L57.80,182.08 L58.50,179.78 L59.20,176.99 L59.90,174.34 L60.60,171.96 L61.30,170.35 L62.00,169.36 L62.70,168.23 L63.40,166.82 L64.10,166.54 L64.80,167.08 L65.50,168.37 L66.20,170.36 L66.90,173.00 L67.60,175.56 L68.30,178.36 L69.00,180.81 L69.70,182.91 L70.40,184.71 L71.10,186.20 L71.80,187.44 L72.50,188.56 L73.20,189.75 L73.90,190.55 L74.60,191.11 L75.30,191.63 L76.00,191.92 L76.70,192.14 L77.40,192.27 L78.10,192.41 L78.80,192.51 L79.50,192.54 L80.20,192.56 L80.90,192.58 L81.60,192.58 L82.30,192.60 L83.00,192.60 L83.70,192.60 L84.40,192.60 L85.10,192.60 L85.80,192.60 L86.50,192.60 L87.20,192.60 L87.90,192.60 L88.60,192.60 L89.30,192.60 L90.00,192.60 L90.70,192.60 L91.40,192.60 L92.10,192.60 L92.80,192.60 L93.50,192.60 L94.20,192.60 L94.90,192.60 L95.60,192.60 L96.30,192.60 L97.00,192.60 L97.70,192.60 L98.40,192.60 L99.10,192.60 L99.80,192.60 L100.50,192.60 L101.20,192.60 L101.90,192.60 L102.60,192.60 L103.30,192.60 L104.00,192.60 L104.70,192.60 L105.40,192.60 L106.10,192.60 L106.80,192.60 L107.50,192.60 L108.20,192.60 L108.90,192.60 L109.60,192.60 L110.30,192.60 L111.00,192.60 L111.70,192.60 L112.40,192.60 L113.10,192.60 L113.80,192.60 L114.50,192.60 L115.20,192.60 L115.90,192.60 L116.60,192.60 L117.30,192.60 L118.00,192.60" fill="none" stroke="#888" stroke-width="0.6" stroke-linejoin="round"/>
<text x="17.4" y="162.4" font-size="6.6" text-anchor="start" fill="#111" stroke="#111" stroke-width="0.32" textLength="20.2" lengthAdjust="spacingAndGlyphs">Isotype</text>
<line x1="21.6" y1="165.8" x2="21.60" y2="171.39" stroke="#111" stroke-width="0.72"/>
<polygon points="21.60,173.80 20.22,170.89 22.98,170.89" fill="#111"/>
<text x="38.8" y="156.7" font-size="6.4" text-anchor="start" fill="#111" stroke="#111" stroke-width="0.32" textLength="20.2" lengthAdjust="spacingAndGlyphs">G-CSF</text>
<line x1="48.1" y1="157.3" x2="55.33" y2="161.87" stroke="#111" stroke-width="0.84"/>
<polygon points="57.75,163.40 53.99,163.06 55.83,160.15" fill="#111"/>
<text x="82.3" y="167.7" font-size="6.8" text-anchor="start" fill="#111" stroke="#111" stroke-width="0.32" textLength="13.3" lengthAdjust="spacingAndGlyphs">none</text>
<line x1="85.9" y1="172.7" x2="73.44" y2="180.21" stroke="#111" stroke-width="0.84"/>
<polygon points="70.80,181.80 72.98,178.47 74.76,181.43" fill="#111"/>
<line x1="15.4" y1="202.7" x2="15.4" y2="233.9" stroke="#555" stroke-width="0.7"/>
<path d="M15.40,225.90 L16.10,225.43 L16.80,224.32 L17.50,224.01 L18.20,223.52 L18.90,223.27 L19.60,222.66 L20.30,222.17 L21.00,221.83 L21.70,220.77 L22.40,219.53 L23.10,217.87 L23.80,218.93 L24.50,219.02 L25.20,219.09 L25.90,220.12 L26.60,218.99 L27.30,218.03 L28.00,218.29 L28.70,218.86 L29.40,220.28 L30.10,223.11 L30.80,224.17 L31.50,223.66 L32.20,224.86 L32.90,226.35 L33.60,228.31 L34.30,229.08 L35.00,229.96 L35.70,230.74 L36.40,231.43 L37.10,231.83 L37.80,232.15 L38.50,232.58 L39.20,233.04 L39.90,233.23 L40.60,233.46 L41.30,233.64 L42.00,233.65 L42.00,233.9 L15.40,233.9 Z" fill="#c4c4c4" stroke="#666" stroke-width="0.6" stroke-linejoin="round"/>
<path d="M38.00,233.90 L38.70,233.90 L39.40,233.90 L40.10,233.90 L40.80,233.90 L41.50,233.90 L42.20,233.90 L42.90,233.90 L43.60,233.90 L44.30,233.90 L45.00,233.90 L45.70,233.90 L46.40,233.90 L47.10,233.90 L47.80,233.89 L48.50,233.87 L49.20,233.83 L49.90,233.81 L50.60,233.73 L51.30,233.61 L52.00,233.33 L52.70,233.10 L53.40,232.65 L54.10,231.81 L54.80,231.00 L55.50,229.86 L56.20,227.92 L56.90,225.76 L57.60,222.92 L58.30,219.65 L59.00,216.14 L59.70,213.06 L60.40,211.19 L61.10,209.91 L61.80,205.31 L62.50,203.55 L63.20,205.33 L63.90,205.34 L64.60,205.96 L65.30,204.75 L66.00,207.50 L66.70,211.50 L67.40,214.63 L68.10,217.54 L68.80,219.62 L69.50,222.32 L70.20,224.70 L70.90,226.90 L71.60,229.13 L72.30,230.58 L73.00,231.39 L73.70,232.19 L74.40,232.85 L75.10,233.23 L75.80,233.43 L76.50,233.58 L77.20,233.75 L77.90,233.79 L78.60,233.84 L79.30,233.86 L80.00,233.89 L80.70,233.89 L81.40,233.89 L82.10,233.90 L82.80,233.90 L83.50,233.90 L84.20,233.90 L84.90,233.90 L85.60,233.90 L86.30,233.90 L87.00,233.90 L87.70,233.90 L88.40,233.90 L89.10,233.90 L89.80,233.90 L90.50,233.90 L91.20,233.90 L91.90,233.90 L92.60,233.90 L93.30,233.90 L94.00,233.90 L94.70,233.90 L95.40,233.90 L96.10,233.90 L96.80,233.90 L97.50,233.90 L98.20,233.90 L98.90,233.90 L99.60,233.90 L100.30,233.90 L101.00,233.90 L101.70,233.90 L102.40,233.90 L103.10,233.90 L103.80,233.90 L104.50,233.90 L105.20,233.90 L105.90,233.90 L106.60,233.90 L107.30,233.90 L108.00,233.90 L108.70,233.90 L109.40,233.90 L110.10,233.90 L110.80,233.90 L111.50,233.90 L112.20,233.90 L112.90,233.90 L113.60,233.90 L114.30,233.90 L115.00,233.90 L115.70,233.90 L116.40,233.90 L117.10,233.90 L117.80,233.90" fill="none" stroke="#555" stroke-width="0.75" stroke-linejoin="round"/>
<path d="M38.00,233.90 L38.70,233.90 L39.40,233.90 L40.10,233.90 L40.80,233.90 L41.50,233.90 L42.20,233.90 L42.90,233.90 L43.60,233.90 L44.30,233.90 L45.00,233.90 L45.70,233.90 L46.40,233.89 L47.10,233.90 L47.80,233.89 L48.50,233.89 L49.20,233.85 L49.90,233.84 L50.60,233.74 L51.30,233.63 L52.00,233.49 L52.70,233.25 L53.40,232.79 L54.10,232.40 L54.80,231.63 L55.50,230.52 L56.20,229.16 L56.90,227.45 L57.60,224.99 L58.30,222.86 L59.00,220.43 L59.70,218.10 L60.40,214.06 L61.10,209.76 L61.80,207.09 L62.50,205.27 L63.20,205.72 L63.90,204.00 L64.60,203.45 L65.30,205.45 L66.00,206.49 L66.70,207.99 L67.40,210.80 L68.10,213.55 L68.80,217.09 L69.50,220.85 L70.20,223.52 L70.90,225.52 L71.60,227.10 L72.30,228.92 L73.00,230.26 L73.70,231.51 L74.40,232.18 L75.10,232.74 L75.80,233.08 L76.50,233.43 L77.20,233.58 L77.90,233.70 L78.60,233.77 L79.30,233.83 L80.00,233.87 L80.70,233.87 L81.40,233.90 L82.10,233.89 L82.80,233.90 L83.50,233.90 L84.20,233.90 L84.90,233.90 L85.60,233.90 L86.30,233.90 L87.00,233.90 L87.70,233.90 L88.40,233.90 L89.10,233.90 L89.80,233.90 L90.50,233.90 L91.20,233.90 L91.90,233.90 L92.60,233.90 L93.30,233.90 L94.00,233.90 L94.70,233.90 L95.40,233.90 L96.10,233.90 L96.80,233.90 L97.50,233.90 L98.20,233.90 L98.90,233.90 L99.60,233.90 L100.30,233.90 L101.00,233.90 L101.70,233.90 L102.40,233.90 L103.10,233.90 L103.80,233.90 L104.50,233.90 L105.20,233.90 L105.90,233.90 L106.60,233.90 L107.30,233.90 L108.00,233.90 L108.70,233.90 L109.40,233.90 L110.10,233.90 L110.80,233.90 L111.50,233.90 L112.20,233.90 L112.90,233.90 L113.60,233.90 L114.30,233.90 L115.00,233.90 L115.70,233.90 L116.40,233.90 L117.10,233.90 L117.80,233.90" fill="none" stroke="#888" stroke-width="0.6" stroke-linejoin="round"/>
<text x="17.4" y="211.4" font-size="6.6" text-anchor="start" fill="#111" stroke="#111" stroke-width="0.32" textLength="20.2" lengthAdjust="spacingAndGlyphs">Isotype</text>
<line x1="20.2" y1="213.7" x2="20.20" y2="218.09" stroke="#111" stroke-width="0.72"/>
<polygon points="20.20,220.50 18.82,217.59 21.58,217.59" fill="#111"/>
<text x="37.8" y="203.7" font-size="6.4" text-anchor="start" fill="#111" stroke="#111" stroke-width="0.32" textLength="19.0" lengthAdjust="spacingAndGlyphs">G-CSF</text>
<line x1="48.1" y1="205.3" x2="55.28" y2="209.46" stroke="#111" stroke-width="0.84"/>
<polygon points="57.75,210.90 53.98,210.71 55.71,207.72" fill="#111"/>
<text x="81.8" y="211.8" font-size="6.8" text-anchor="start" fill="#111" stroke="#111" stroke-width="0.32" textLength="13.7" lengthAdjust="spacingAndGlyphs">none</text>
<line x1="87.8" y1="215.3" x2="76.34" y2="222.21" stroke="#111" stroke-width="0.84"/>
<polygon points="73.70,223.80 75.88,220.47 77.66,223.43" fill="#111"/>
<line x1="15.4" y1="233.9" x2="118" y2="233.9" stroke="#666" stroke-width="0.7"/>
<text x="13.6" y="241.5" font-size="4.6" text-anchor="start" fill="#111" stroke="#111" stroke-width="0.2">10<tspan dy="-1.4" font-size="3.31">0</tspan></text>
<text x="46.7" y="241.5" font-size="4.6" text-anchor="start" fill="#111" stroke="#111" stroke-width="0.2">10<tspan dy="-1.4" font-size="3.31">1</tspan></text>
<text x="80.0" y="241.5" font-size="4.6" text-anchor="start" fill="#111" stroke="#111" stroke-width="0.2">10<tspan dy="-1.4" font-size="3.31">2</tspan></text>
<text x="113.9" y="241.5" font-size="4.6" text-anchor="start" fill="#111" stroke="#111" stroke-width="0.2">10<tspan dy="-1.4" font-size="3.31">3</tspan></text>
<text x="56.6" y="243.2" font-size="6.4" font-weight="bold" text-anchor="start" fill="#111" stroke="#111" stroke-width="0.32" textLength="22.6" lengthAdjust="spacingAndGlyphs">CXCR4</text>
<clipPath id="cb1"><rect x="130.4" y="153.2" width="33.8" height="28.8"/></clipPath>
<rect x="130.4" y="153.2" width="33.8" height="28.8" fill="#fff" stroke="#ccc" stroke-width="0.5"/>
<line x1="130.4" y1="153.2" x2="130.4" y2="182" stroke="#aaa" stroke-width="0.5"/>
<line x1="130.4" y1="182" x2="164.2" y2="182" stroke="#aaa" stroke-width="0.5"/>
<g clip-path="url(#cb1)"><ellipse cx="136" cy="164" rx="4.5" ry="6" fill="#000" fill-opacity="0.18" filter="url(#b2_5)"/></g>
<g clip-path="url(#cb1)"><ellipse cx="136.2" cy="173.8" rx="4.0" ry="4.6" fill="#000" fill-opacity="0.9" filter="url(#b1_5)"/></g>
<g clip-path="url(#cb1)"><ellipse cx="147.5" cy="179.8" rx="5.0" ry="1.7" fill="#000" fill-opacity="0.95" filter="url(#b1_2)"/></g>
<g clip-path="url(#cb1)">
<circle cx="138.7" cy="167.8" r="0.3" fill="#999"/>
<circle cx="135.9" cy="176.9" r="0.3" fill="#999"/>
<circle cx="138.3" cy="169.2" r="0.3" fill="#999"/>
<circle cx="161.5" cy="164.8" r="0.3" fill="#999"/>
<circle cx="162.9" cy="174.3" r="0.3" fill="#999"/>
<circle cx="148.9" cy="171.4" r="0.3" fill="#999"/>
<circle cx="150.1" cy="163.8" r="0.3" fill="#999"/>
<circle cx="163.9" cy="165.0" r="0.3" fill="#999"/>
<circle cx="163.5" cy="177.8" r="0.3" fill="#999"/>
<circle cx="131.4" cy="160.9" r="0.3" fill="#999"/>
<circle cx="146.5" cy="176.7" r="0.3" fill="#999"/>
<circle cx="136.5" cy="171.1" r="0.3" fill="#999"/>
<circle cx="142.8" cy="175.9" r="0.3" fill="#999"/>
<circle cx="161.5" cy="175.2" r="0.3" fill="#999"/>
<circle cx="137.0" cy="175.2" r="0.3" fill="#999"/>
<circle cx="145.2" cy="177.4" r="0.3" fill="#999"/>
<circle cx="146.2" cy="179.3" r="0.3" fill="#999"/>
<circle cx="163.5" cy="177.0" r="0.3" fill="#999"/>
<circle cx="158.2" cy="176.8" r="0.3" fill="#999"/>
<circle cx="150.3" cy="158.5" r="0.3" fill="#999"/>
<circle cx="163.5" cy="166.7" r="0.3" fill="#999"/>
<circle cx="131.0" cy="165.9" r="0.3" fill="#999"/>
<circle cx="144.4" cy="159.2" r="0.3" fill="#999"/>
<circle cx="162.7" cy="156.7" r="0.3" fill="#999"/>
<circle cx="160.8" cy="169.2" r="0.3" fill="#999"/>
<circle cx="136.5" cy="163.7" r="0.3" fill="#999"/>
<circle cx="145.6" cy="156.9" r="0.3" fill="#999"/>
<circle cx="156.1" cy="172.1" r="0.3" fill="#999"/>
<circle cx="163.4" cy="177.2" r="0.3" fill="#999"/>
<circle cx="156.8" cy="181.9" r="0.3" fill="#999"/>
<circle cx="161.7" cy="171.9" r="0.3" fill="#999"/>
<circle cx="148.6" cy="168.4" r="0.3" fill="#999"/>
<circle cx="157.8" cy="179.9" r="0.3" fill="#999"/>
<circle cx="158.3" cy="177.4" r="0.3" fill="#999"/>
<circle cx="131.4" cy="165.5" r="0.3" fill="#999"/>
<circle cx="137.0" cy="167.7" r="0.3" fill="#555"/>
<circle cx="135.5" cy="161.2" r="0.3" fill="#555"/>
<circle cx="138.9" cy="165.8" r="0.3" fill="#555"/>
<circle cx="137.5" cy="166.3" r="0.3" fill="#555"/>
<circle cx="139.1" cy="167.8" r="0.3" fill="#555"/>
<circle cx="137.1" cy="173.0" r="0.3" fill="#555"/>
<circle cx="135.5" cy="166.8" r="0.3" fill="#555"/>
<circle cx="135.7" cy="168.6" r="0.3" fill="#555"/>
<circle cx="137.7" cy="169.5" r="0.3" fill="#555"/>
<circle cx="136.3" cy="172.8" r="0.3" fill="#555"/>
<circle cx="136.5" cy="161.9" r="0.3" fill="#555"/>
<circle cx="140.0" cy="158.0" r="0.3" fill="#555"/>
<circle cx="141.8" cy="159.1" r="0.3" fill="#555"/>
<circle cx="132.0" cy="163.9" r="0.3" fill="#555"/>
<circle cx="138.8" cy="162.9" r="0.3" fill="#555"/>
<circle cx="138.3" cy="173.7" r="0.3" fill="#555"/>
<circle cx="134.1" cy="167.3" r="0.3" fill="#555"/>
<circle cx="137.6" cy="170.1" r="0.3" fill="#555"/>
<circle cx="134.2" cy="157.6" r="0.3" fill="#555"/>
<circle cx="134.2" cy="162.7" r="0.3" fill="#555"/>
<circle cx="136.3" cy="168.1" r="0.3" fill="#555"/>
<circle cx="133.9" cy="161.9" r="0.3" fill="#555"/>
<circle cx="134.2" cy="169.0" r="0.3" fill="#555"/>
<circle cx="137.4" cy="170.6" r="0.3" fill="#555"/>
<circle cx="138.8" cy="173.9" r="0.3" fill="#555"/>
<circle cx="134.7" cy="175.1" r="0.3" fill="#555"/>
<circle cx="132.6" cy="171.3" r="0.3" fill="#555"/>
<circle cx="135.8" cy="157.6" r="0.3" fill="#555"/>
<circle cx="140.5" cy="180.3" r="0.3" fill="#555"/>
<circle cx="139.4" cy="159.1" r="0.3" fill="#555"/>
<circle cx="136.8" cy="163.9" r="0.3" fill="#555"/>
<circle cx="133.7" cy="157.2" r="0.3" fill="#555"/>
<circle cx="136.1" cy="155.1" r="0.3" fill="#555"/>
<circle cx="131.6" cy="166.4" r="0.3" fill="#555"/>
<circle cx="139.9" cy="172.1" r="0.3" fill="#555"/>
<circle cx="138.9" cy="175.7" r="0.3" fill="#555"/>
<circle cx="138.4" cy="164.7" r="0.3" fill="#555"/>
<circle cx="136.8" cy="168.8" r="0.3" fill="#555"/>
<circle cx="134.3" cy="167.6" r="0.3" fill="#555"/>
<circle cx="135.7" cy="159.8" r="0.3" fill="#555"/>
<circle cx="131.5" cy="168.0" r="0.3" fill="#555"/>
<circle cx="137.9" cy="173.4" r="0.3" fill="#555"/>
<circle cx="139.6" cy="170.2" r="0.3" fill="#555"/>
<circle cx="136.5" cy="164.7" r="0.3" fill="#555"/>
<circle cx="135.1" cy="171.7" r="0.3" fill="#555"/>
<circle cx="135.9" cy="179.4" r="0.3" fill="#555"/>
<circle cx="140.5" cy="173.0" r="0.3" fill="#555"/>
<circle cx="135.6" cy="178.0" r="0.3" fill="#555"/>
<circle cx="140.4" cy="160.4" r="0.3" fill="#555"/>
<circle cx="137.3" cy="175.1" r="0.3" fill="#555"/>
<circle cx="133.5" cy="179.2" r="0.3" fill="#555"/>
<circle cx="135.5" cy="171.5" r="0.3" fill="#555"/>
<circle cx="134.9" cy="169.4" r="0.3" fill="#555"/>
<circle cx="136.8" cy="177.2" r="0.3" fill="#555"/>
<circle cx="135.1" cy="171.4" r="0.3" fill="#555"/>
<circle cx="138.1" cy="166.1" r="0.3" fill="#555"/>
<circle cx="137.3" cy="159.3" r="0.3" fill="#555"/>
<circle cx="131.9" cy="165.0" r="0.3" fill="#555"/>
<circle cx="131.0" cy="162.4" r="0.3" fill="#555"/>
<circle cx="135.2" cy="163.6" r="0.3" fill="#555"/>
<circle cx="134.0" cy="162.1" r="0.3" fill="#555"/>
<circle cx="137.3" cy="166.6" r="0.3" fill="#555"/>
<circle cx="140.4" cy="172.0" r="0.3" fill="#555"/>
<circle cx="139.3" cy="163.2" r="0.3" fill="#555"/>
<circle cx="140.9" cy="171.6" r="0.3" fill="#555"/>
<circle cx="135.7" cy="175.2" r="0.3" fill="#555"/>
<circle cx="137.1" cy="163.3" r="0.3" fill="#555"/>
<circle cx="136.1" cy="171.0" r="0.3" fill="#555"/>
<circle cx="135.2" cy="170.3" r="0.3" fill="#555"/>
<circle cx="134.1" cy="157.4" r="0.3" fill="#555"/>
<circle cx="139.5" cy="170.5" r="0.3" fill="#555"/>
<circle cx="137.4" cy="158.0" r="0.3" fill="#555"/>
<circle cx="135.7" cy="175.3" r="0.3" fill="#555"/>
<circle cx="134.5" cy="161.4" r="0.3" fill="#555"/>
<circle cx="142.6" cy="167.9" r="0.3" fill="#555"/>
<circle cx="137.5" cy="167.3" r="0.3" fill="#555"/>
<circle cx="140.0" cy="169.2" r="0.3" fill="#555"/>
</g>
<rect x="142.9" y="176.3" width="16.9" height="5.5" fill="none" stroke="#999" stroke-width="0.4"/>
<text x="141.1" y="190.9" font-size="5.1" font-weight="bold" text-anchor="start" fill="#111" stroke="#111" stroke-width="0.15" textLength="12.6" lengthAdjust="spacingAndGlyphs">CD19</text>
<clipPath id="cb2"><rect x="131.1" y="197.7" width="34" height="30.9"/></clipPath>
<rect x="131.1" y="197.7" width="34" height="30.9" fill="#fff" stroke="#ccc" stroke-width="0.5"/>
<line x1="131.1" y1="197.7" x2="131.1" y2="228.6" stroke="#aaa" stroke-width="0.5"/>
<line x1="131.1" y1="228.6" x2="165.1" y2="228.6" stroke="#aaa" stroke-width="0.5"/>
<g clip-path="url(#cb2)"><ellipse cx="137.5" cy="210" rx="3.5" ry="6" fill="#000" fill-opacity="0.2" filter="url(#b2_5)"/></g>
<g clip-path="url(#cb2)"><ellipse cx="135.0" cy="220.5" rx="4.0" ry="4.5" fill="#000" fill-opacity="0.92" filter="url(#b1_5)"/></g>
<g clip-path="url(#cb2)"><ellipse cx="138.5" cy="224.0" rx="5.5" ry="1.2" fill="#000" fill-opacity="0.8" filter="url(#b1_0)"/></g>
<g clip-path="url(#cb2)">
<circle cx="148.1" cy="215.0" r="0.3" fill="#999"/>
<circle cx="158.6" cy="207.9" r="0.3" fill="#999"/>
<circle cx="142.3" cy="219.1" r="0.3" fill="#999"/>
<circle cx="147.8" cy="209.1" r="0.3" fill="#999"/>
<circle cx="145.1" cy="208.2" r="0.3" fill="#999"/>
<circle cx="137.1" cy="217.3" r="0.3" fill="#999"/>
<circle cx="161.4" cy="219.0" r="0.3" fill="#999"/>
<circle cx="152.8" cy="208.4" r="0.3" fill="#999"/>
<circle cx="146.0" cy="202.6" r="0.3" fill="#999"/>
<circle cx="155.9" cy="207.2" r="0.3" fill="#999"/>
<circle cx="141.3" cy="227.8" r="0.3" fill="#999"/>
<circle cx="142.9" cy="227.8" r="0.3" fill="#999"/>
<circle cx="152.2" cy="221.2" r="0.3" fill="#999"/>
<circle cx="152.5" cy="203.6" r="0.3" fill="#999"/>
<circle cx="155.4" cy="206.0" r="0.3" fill="#999"/>
<circle cx="145.2" cy="202.1" r="0.3" fill="#999"/>
<circle cx="133.5" cy="209.3" r="0.3" fill="#999"/>
<circle cx="132.0" cy="209.8" r="0.3" fill="#999"/>
<circle cx="160.0" cy="228.4" r="0.3" fill="#999"/>
<circle cx="145.7" cy="201.5" r="0.3" fill="#999"/>
<circle cx="143.1" cy="200.1" r="0.3" fill="#999"/>
<circle cx="138.8" cy="217.0" r="0.3" fill="#999"/>
<circle cx="152.2" cy="199.1" r="0.3" fill="#999"/>
<circle cx="147.8" cy="211.0" r="0.3" fill="#999"/>
<circle cx="144.8" cy="202.3" r="0.3" fill="#999"/>
<circle cx="144.7" cy="201.3" r="0.3" fill="#999"/>
<circle cx="154.5" cy="217.8" r="0.3" fill="#999"/>
<circle cx="152.6" cy="210.5" r="0.3" fill="#999"/>
<circle cx="163.6" cy="209.3" r="0.3" fill="#999"/>
<circle cx="138.3" cy="209.5" r="0.3" fill="#999"/>
<circle cx="162.1" cy="203.0" r="0.3" fill="#999"/>
<circle cx="157.1" cy="226.5" r="0.3" fill="#999"/>
<circle cx="160.0" cy="212.3" r="0.3" fill="#999"/>
<circle cx="146.6" cy="224.5" r="0.3" fill="#999"/>
<circle cx="155.3" cy="222.6" r="0.3" fill="#999"/>
<circle cx="138.7" cy="212.4" r="0.3" fill="#555"/>
<circle cx="139.2" cy="213.2" r="0.3" fill="#555"/>
<circle cx="134.8" cy="219.6" r="0.3" fill="#555"/>
<circle cx="141.0" cy="227.0" r="0.3" fill="#555"/>
<circle cx="138.8" cy="213.7" r="0.3" fill="#555"/>
<circle cx="139.4" cy="218.7" r="0.3" fill="#555"/>
<circle cx="131.9" cy="212.8" r="0.3" fill="#555"/>
<circle cx="134.8" cy="220.7" r="0.3" fill="#555"/>
<circle cx="138.1" cy="217.5" r="0.3" fill="#555"/>
<circle cx="140.3" cy="217.6" r="0.3" fill="#555"/>
<circle cx="133.2" cy="210.8" r="0.3" fill="#555"/>
<circle cx="139.4" cy="212.0" r="0.3" fill="#555"/>
<circle cx="135.2" cy="219.6" r="0.3" fill="#555"/>
<circle cx="139.4" cy="212.3" r="0.3" fill="#555"/>
<circle cx="136.2" cy="220.1" r="0.3" fill="#555"/>
<circle cx="136.1" cy="209.5" r="0.3" fill="#555"/>
<circle cx="139.3" cy="222.6" r="0.3" fill="#555"/>
<circle cx="133.5" cy="210.4" r="0.3" fill="#555"/>
<circle cx="139.3" cy="214.4" r="0.3" fill="#555"/>
<circle cx="139.3" cy="217.4" r="0.3" fill="#555"/>
<circle cx="144.5" cy="203.9" r="0.3" fill="#555"/>
<circle cx="138.6" cy="209.3" r="0.3" fill="#555"/>
<circle cx="135.3" cy="219.0" r="0.3" fill="#555"/>
<circle cx="136.4" cy="208.6" r="0.3" fill="#555"/>
<circle cx="134.2" cy="214.9" r="0.3" fill="#555"/>
<circle cx="138.6" cy="207.5" r="0.3" fill="#555"/>
<circle cx="137.4" cy="214.6" r="0.3" fill="#555"/>
<circle cx="136.1" cy="211.7" r="0.3" fill="#555"/>
<circle cx="136.0" cy="210.3" r="0.3" fill="#555"/>
<circle cx="134.3" cy="212.9" r="0.3" fill="#555"/>
<circle cx="136.1" cy="211.4" r="0.3" fill="#555"/>
<circle cx="133.3" cy="218.8" r="0.3" fill="#555"/>
<circle cx="144.9" cy="213.1" r="0.3" fill="#555"/>
<circle cx="143.5" cy="208.0" r="0.3" fill="#555"/>
<circle cx="131.8" cy="209.1" r="0.3" fill="#555"/>
<circle cx="136.1" cy="215.2" r="0.3" fill="#555"/>
<circle cx="143.0" cy="207.9" r="0.3" fill="#555"/>
<circle cx="136.9" cy="219.8" r="0.3" fill="#555"/>
<circle cx="137.5" cy="223.4" r="0.3" fill="#555"/>
<circle cx="139.7" cy="223.6" r="0.3" fill="#555"/>
<circle cx="140.0" cy="215.4" r="0.3" fill="#555"/>
<circle cx="137.7" cy="207.2" r="0.3" fill="#555"/>
<circle cx="137.5" cy="215.1" r="0.3" fill="#555"/>
<circle cx="136.5" cy="211.8" r="0.3" fill="#555"/>
<circle cx="136.2" cy="222.0" r="0.3" fill="#555"/>
<circle cx="136.7" cy="215.5" r="0.3" fill="#555"/>
<circle cx="138.3" cy="204.8" r="0.3" fill="#555"/>
<circle cx="135.9" cy="212.2" r="0.3" fill="#555"/>
<circle cx="134.7" cy="213.7" r="0.3" fill="#555"/>
<circle cx="139.6" cy="211.9" r="0.3" fill="#555"/>
<circle cx="135.2" cy="213.5" r="0.3" fill="#555"/>
<circle cx="139.9" cy="207.1" r="0.3" fill="#555"/>
<circle cx="133.6" cy="212.6" r="0.3" fill="#555"/>
<circle cx="135.2" cy="219.6" r="0.3" fill="#555"/>
<circle cx="136.4" cy="213.9" r="0.3" fill="#555"/>
<circle cx="135.8" cy="204.2" r="0.3" fill="#555"/>
<circle cx="138.6" cy="214.6" r="0.3" fill="#555"/>
<circle cx="136.4" cy="208.6" r="0.3" fill="#555"/>
<circle cx="139.9" cy="221.2" r="0.3" fill="#555"/>
<circle cx="139.8" cy="213.4" r="0.3" fill="#555"/>
<circle cx="133.8" cy="209.9" r="0.3" fill="#555"/>
<circle cx="133.2" cy="211.2" r="0.3" fill="#555"/>
<circle cx="142.1" cy="207.9" r="0.3" fill="#555"/>
<circle cx="140.5" cy="208.1" r="0.3" fill="#555"/>
<circle cx="137.4" cy="203.9" r="0.3" fill="#555"/>
<circle cx="136.8" cy="204.9" r="0.3" fill="#555"/>
<circle cx="137.1" cy="211.9" r="0.3" fill="#555"/>
<circle cx="139.1" cy="221.6" r="0.3" fill="#555"/>
<circle cx="135.1" cy="216.0" r="0.3" fill="#555"/>
<circle cx="135.8" cy="210.8" r="0.3" fill="#555"/>
<circle cx="137.1" cy="208.8" r="0.3" fill="#555"/>
<circle cx="139.3" cy="211.4" r="0.3" fill="#555"/>
<circle cx="139.6" cy="212.8" r="0.3" fill="#555"/>
<circle cx="137.3" cy="210.8" r="0.3" fill="#555"/>
<circle cx="134.2" cy="213.9" r="0.3" fill="#555"/>
<circle cx="140.1" cy="206.8" r="0.3" fill="#555"/>
</g>
<rect x="143.3" y="220" width="10.9" height="4.1" fill="none" stroke="#999" stroke-width="0.4"/>
<line x1="124.6" y1="201.4" x2="124.6" y2="232.5" stroke="#bbb" stroke-width="0.5"/>
<text x="142.0" y="235.9" font-size="5.1" font-weight="bold" text-anchor="start" fill="#111" stroke="#111" stroke-width="0.15" textLength="12.8" lengthAdjust="spacingAndGlyphs">CD3e</text>
<text x="184.1" y="10.6" font-size="12.0" text-anchor="start" fill="#111" stroke="#111" stroke-width="0.4" textLength="7.6" lengthAdjust="spacingAndGlyphs">C</text>
<line x1="203.6" y1="26.5" x2="203.6" y2="94.2" stroke="#333" stroke-width="0.7"/>
<line x1="203.6" y1="94.3" x2="339.7" y2="94.3" stroke="#333" stroke-width="0.7"/>
<line x1="202.1" y1="94.2" x2="203.6" y2="94.2" stroke="#333" stroke-width="0.5"/>
<text x="199.8" y="96.10000000000001" font-size="5.5" text-anchor="end" fill="#111" stroke="#111" stroke-width="0.16">0</text>
<line x1="202.1" y1="84.67" x2="203.6" y2="84.67" stroke="#333" stroke-width="0.5"/>
<text x="199.8" y="86.57000000000001" font-size="5.5" text-anchor="end" fill="#111" stroke="#111" stroke-width="0.16">5</text>
<line x1="202.1" y1="75.14" x2="203.6" y2="75.14" stroke="#333" stroke-width="0.5"/>
<text x="199.8" y="77.04" font-size="5.5" text-anchor="end" fill="#111" stroke="#111" stroke-width="0.16">10</text>
<line x1="202.1" y1="65.61" x2="203.6" y2="65.61" stroke="#333" stroke-width="0.5"/>
<text x="199.8" y="67.51" font-size="5.5" text-anchor="end" fill="#111" stroke="#111" stroke-width="0.16">15</text>
<line x1="202.1" y1="56.080000000000005" x2="203.6" y2="56.080000000000005" stroke="#333" stroke-width="0.5"/>
<text x="199.8" y="57.980000000000004" font-size="5.5" text-anchor="end" fill="#111" stroke="#111" stroke-width="0.16">20</text>
<line x1="202.1" y1="46.550000000000004" x2="203.6" y2="46.550000000000004" stroke="#333" stroke-width="0.5"/>
<text x="199.8" y="48.45" font-size="5.5" text-anchor="end" fill="#111" stroke="#111" stroke-width="0.16">25</text>
<line x1="202.1" y1="37.02" x2="203.6" y2="37.02" stroke="#333" stroke-width="0.5"/>
<text x="199.8" y="38.92" font-size="5.5" text-anchor="end" fill="#111" stroke="#111" stroke-width="0.16">30</text>
<line x1="202.1" y1="27.49000000000001" x2="203.6" y2="27.49000000000001" stroke="#333" stroke-width="0.5"/>
<text x="199.8" y="29.390000000000008" font-size="5.5" text-anchor="end" fill="#111" stroke="#111" stroke-width="0.16">35</text>
<line x1="204.5" y1="94.2" x2="204.5" y2="95.7" stroke="#333" stroke-width="0.5"/>
<text x="204.5" y="104.4" font-size="5.9" text-anchor="middle" fill="#111" stroke="#111" stroke-width="0.16">0</text>
<line x1="238.175" y1="94.2" x2="238.175" y2="95.7" stroke="#333" stroke-width="0.5"/>
<text x="238.175" y="104.4" font-size="5.9" text-anchor="middle" fill="#111" stroke="#111" stroke-width="0.16">5</text>
<line x1="271.85" y1="94.2" x2="271.85" y2="95.7" stroke="#333" stroke-width="0.5"/>
<text x="271.85" y="104.4" font-size="5.9" text-anchor="middle" fill="#111" stroke="#111" stroke-width="0.16">10</text>
<line x1="305.525" y1="94.2" x2="305.525" y2="95.7" stroke="#333" stroke-width="0.5"/>
<text x="305.525" y="104.4" font-size="5.9" text-anchor="middle" fill="#111" stroke="#111" stroke-width="0.16">15</text>
<line x1="339.20000000000005" y1="94.2" x2="339.20000000000005" y2="95.7" stroke="#333" stroke-width="0.5"/>
<text x="339.20000000000005" y="104.4" font-size="5.9" text-anchor="middle" fill="#111" stroke="#111" stroke-width="0.16">20</text>
<text x="272.0" y="111.9" font-size="5.7" text-anchor="middle" fill="#111" stroke="#111" stroke-width="0.18" textLength="46.3" lengthAdjust="spacingAndGlyphs">Incubation time (h)</text>
<text x="190.6" y="60.35" font-size="5.3" text-anchor="middle" fill="#111" stroke="#111" stroke-width="0.16" textLength="55.0" lengthAdjust="spacingAndGlyphs" transform="rotate(-90 190.6 60.35)">Surface CXCR4 (MFI)</text>
<polyline points="211.24,84.67 217.97,74.38 224.71,71.52 244.91,76.47 325.73,86.10" fill="none" stroke="#333" stroke-width="0.7"/>
<polyline points="211.24,84.67 217.97,67.33 224.71,59.32 244.91,53.22 325.73,38.35" fill="none" stroke="#333" stroke-width="0.7"/>
<line x1="325.73" y1="31.873800000000003" x2="325.73" y2="43.691" stroke="#222" stroke-width="0.5"/>
<line x1="324.53000000000003" y1="31.873800000000003" x2="326.93" y2="31.873800000000003" stroke="#222" stroke-width="0.5"/>
<line x1="324.53000000000003" y1="43.691" x2="326.93" y2="43.691" stroke="#222" stroke-width="0.5"/>
<line x1="224.705" y1="68.65960000000001" x2="224.705" y2="74.3776" stroke="#222" stroke-width="0.5"/>
<line x1="223.50500000000002" y1="68.65960000000001" x2="225.905" y2="68.65960000000001" stroke="#222" stroke-width="0.5"/>
<line x1="223.50500000000002" y1="74.3776" x2="225.905" y2="74.3776" stroke="#222" stroke-width="0.5"/>
<circle cx="211.24" cy="84.67" r="1.6" fill="#fff" stroke="#222" stroke-width="0.6"/>
<circle cx="217.97" cy="67.33" r="1.6" fill="#fff" stroke="#222" stroke-width="0.6"/>
<circle cx="224.71" cy="59.32" r="1.6" fill="#fff" stroke="#222" stroke-width="0.6"/>
<circle cx="244.91" cy="53.22" r="1.6" fill="#fff" stroke="#222" stroke-width="0.6"/>
<circle cx="325.73" cy="38.35" r="1.6" fill="#fff" stroke="#222" stroke-width="0.6"/>
<circle cx="211.24" cy="84.67" r="1.5" fill="#111"/>
<circle cx="217.97" cy="74.38" r="1.5" fill="#111"/>
<circle cx="224.71" cy="71.52" r="1.5" fill="#111"/>
<circle cx="244.91" cy="76.47" r="1.5" fill="#111"/>
<rect x="324.33" y="84.70" width="2.8" height="2.8" fill="#111"/>
<line x1="213.5" y1="37.5" x2="222.3" y2="37.5" stroke="#333" stroke-width="0.6"/>
<circle cx="218.6" cy="37.5" r="1.5" fill="#fff" stroke="#222" stroke-width="0.6"/>
<text x="225.0" y="39.3" font-size="5.3" text-anchor="start" fill="#111" stroke="#111" stroke-width="0.2" textLength="18.5" lengthAdjust="spacingAndGlyphs">medium</text>
<line x1="213.5" y1="45.1" x2="222.3" y2="45.1" stroke="#333" stroke-width="0.6"/>
<circle cx="218.4" cy="45.1" r="1.5" fill="#111"/>
<text x="225.0" y="46.7" font-size="5.3" text-anchor="start" fill="#111" stroke="#111" stroke-width="0.2" textLength="16.2" lengthAdjust="spacingAndGlyphs">G-CSF</text>
<text x="184.4" y="138.5" font-size="12.0" text-anchor="start" fill="#111" stroke="#111" stroke-width="0.4" textLength="7.2" lengthAdjust="spacingAndGlyphs">D</text>
<line x1="209.6" y1="154.2" x2="209.6" y2="226.9" stroke="#333" stroke-width="0.7"/>
<line x1="209.6" y1="226.9" x2="344.7" y2="226.9" stroke="#333" stroke-width="0.7"/>
<line x1="208.1" y1="226.9" x2="209.6" y2="226.9" stroke="#333" stroke-width="0.5"/>
<text x="205.4" y="228.9" font-size="5.8" text-anchor="end" fill="#111" stroke="#111" stroke-width="0.16">0</text>
<line x1="208.1" y1="214.8" x2="209.6" y2="214.8" stroke="#333" stroke-width="0.5"/>
<text x="205.4" y="216.8" font-size="5.8" text-anchor="end" fill="#111" stroke="#111" stroke-width="0.16">20</text>
<line x1="208.1" y1="202.70000000000002" x2="209.6" y2="202.70000000000002" stroke="#333" stroke-width="0.5"/>
<text x="205.4" y="204.70000000000002" font-size="5.8" text-anchor="end" fill="#111" stroke="#111" stroke-width="0.16">40</text>
<line x1="208.1" y1="190.60000000000002" x2="209.6" y2="190.60000000000002" stroke="#333" stroke-width="0.5"/>
<text x="205.4" y="192.60000000000002" font-size="5.8" text-anchor="end" fill="#111" stroke="#111" stroke-width="0.16">60</text>
<line x1="208.1" y1="178.5" x2="209.6" y2="178.5" stroke="#333" stroke-width="0.5"/>
<text x="205.4" y="180.5" font-size="5.8" text-anchor="end" fill="#111" stroke="#111" stroke-width="0.16">80</text>
<line x1="208.1" y1="166.4" x2="209.6" y2="166.4" stroke="#333" stroke-width="0.5"/>
<text x="205.4" y="168.4" font-size="5.8" text-anchor="end" fill="#111" stroke="#111" stroke-width="0.16">100</text>
<line x1="208.1" y1="154.3" x2="209.6" y2="154.3" stroke="#333" stroke-width="0.5"/>
<text x="205.4" y="156.3" font-size="5.8" text-anchor="end" fill="#111" stroke="#111" stroke-width="0.16">120</text>
<rect x="216.40" y="170.88" width="9.4" height="56.02" fill="#000"/>
<line x1="221.1" y1="167.3075" x2="221.1" y2="170.877" stroke="#000" stroke-width="0.7"/>
<line x1="218.7" y1="167.3075" x2="223.5" y2="167.3075" stroke="#000" stroke-width="0.7"/>
<text x="221.4" y="238.0" font-size="6.4" text-anchor="middle" fill="#111" stroke="#111" stroke-width="0.16">1</text>
<rect x="239.10" y="182.43" width="9.4" height="44.47" fill="#000"/>
<line x1="243.8" y1="179.71" x2="243.8" y2="182.4325" stroke="#000" stroke-width="0.7"/>
<line x1="241.4" y1="179.71" x2="246.20000000000002" y2="179.71" stroke="#000" stroke-width="0.7"/>
<text x="244.10000000000002" y="238.0" font-size="6.4" text-anchor="middle" fill="#111" stroke="#111" stroke-width="0.16">2</text>
<circle cx="242.5" cy="173.1" r="1.25" fill="#111"/>
<rect x="261.60" y="188.18" width="9.4" height="38.72" fill="#000"/>
<line x1="266.3" y1="185.155" x2="266.3" y2="188.18" stroke="#000" stroke-width="0.7"/>
<line x1="263.90000000000003" y1="185.155" x2="268.7" y2="185.155" stroke="#000" stroke-width="0.7"/>
<text x="266.6" y="238.0" font-size="6.4" text-anchor="middle" fill="#111" stroke="#111" stroke-width="0.16">3</text>
<circle cx="266.8" cy="178.2" r="1.25" fill="#111"/>
<rect x="283.90" y="199.07" width="9.4" height="27.83" fill="#000"/>
<line x1="288.6" y1="196.77100000000002" x2="288.6" y2="199.07" stroke="#000" stroke-width="0.7"/>
<line x1="286.20000000000005" y1="196.77100000000002" x2="291.0" y2="196.77100000000002" stroke="#000" stroke-width="0.7"/>
<text x="288.90000000000003" y="238.0" font-size="6.4" text-anchor="middle" fill="#111" stroke="#111" stroke-width="0.16">4</text>
<circle cx="291.8" cy="192.1" r="1.25" fill="#111"/>
<rect x="306.20" y="199.68" width="9.4" height="27.22" fill="#000"/>
<line x1="310.9" y1="198.1625" x2="310.9" y2="199.675" stroke="#000" stroke-width="0.7"/>
<line x1="308.5" y1="198.1625" x2="313.29999999999995" y2="198.1625" stroke="#000" stroke-width="0.7"/>
<text x="311.2" y="238.0" font-size="6.4" text-anchor="middle" fill="#111" stroke="#111" stroke-width="0.16">6</text>
<circle cx="316.3" cy="193.6" r="1.25" fill="#111"/>
<rect x="328.40" y="218.13" width="9.4" height="8.77" fill="#000"/>
<line x1="333.1" y1="216.73600000000002" x2="333.1" y2="218.1275" stroke="#000" stroke-width="0.7"/>
<line x1="330.70000000000005" y1="216.73600000000002" x2="335.5" y2="216.73600000000002" stroke="#000" stroke-width="0.7"/>
<text x="333.40000000000003" y="238.0" font-size="6.4" text-anchor="middle" fill="#111" stroke="#111" stroke-width="0.16">18</text>
<circle cx="339.0" cy="215.4" r="1.25" fill="#111"/>
<text x="274.4" y="246.3" font-size="6.2" text-anchor="middle" fill="#111" stroke="#111" stroke-width="0.18" textLength="51.0" lengthAdjust="spacingAndGlyphs">Incubation time (h)</text>
<text x="191.3" y="193.1" font-size="5.1" text-anchor="middle" fill="#111" stroke="#111" stroke-width="0.14" textLength="74.0" lengthAdjust="spacingAndGlyphs" transform="rotate(-90 191.3 193.1)">Surface CXCR4 (% of control)</text>
<text x="358.4" y="10.7" font-size="12.0" text-anchor="start" fill="#111" stroke="#111" stroke-width="0.4" textLength="6.6" lengthAdjust="spacingAndGlyphs">E</text>
<line x1="380.0" y1="22.5" x2="380.0" y2="93.4" stroke="#333" stroke-width="0.7"/>
<line x1="380.0" y1="93.4" x2="515.5" y2="93.4" stroke="#333" stroke-width="0.7"/>
<line x1="378.5" y1="93.4" x2="380.0" y2="93.4" stroke="#333" stroke-width="0.5"/>
<text x="377.2" y="95.30000000000001" font-size="5.5" text-anchor="end" fill="#111" stroke="#111" stroke-width="0.16">0</text>
<line x1="378.5" y1="79.30000000000001" x2="380.0" y2="79.30000000000001" stroke="#333" stroke-width="0.5"/>
<text x="377.2" y="81.20000000000002" font-size="5.5" text-anchor="end" fill="#111" stroke="#111" stroke-width="0.16">10</text>
<line x1="378.5" y1="65.2" x2="380.0" y2="65.2" stroke="#333" stroke-width="0.5"/>
<text x="377.2" y="67.10000000000001" font-size="5.5" text-anchor="end" fill="#111" stroke="#111" stroke-width="0.16">20</text>
<line x1="378.5" y1="51.10000000000001" x2="380.0" y2="51.10000000000001" stroke="#333" stroke-width="0.5"/>
<text x="377.2" y="53.00000000000001" font-size="5.5" text-anchor="end" fill="#111" stroke="#111" stroke-width="0.16">30</text>
<line x1="378.5" y1="37.00000000000001" x2="380.0" y2="37.00000000000001" stroke="#333" stroke-width="0.5"/>
<text x="377.2" y="38.900000000000006" font-size="5.5" text-anchor="end" fill="#111" stroke="#111" stroke-width="0.16">40</text>
<line x1="378.5" y1="22.900000000000006" x2="380.0" y2="22.900000000000006" stroke="#333" stroke-width="0.5"/>
<text x="377.2" y="24.800000000000004" font-size="5.5" text-anchor="end" fill="#111" stroke="#111" stroke-width="0.16">50</text>
<line x1="381.0" y1="93.4" x2="381.0" y2="95.2" stroke="#333" stroke-width="0.5"/>
<text x="381.0" y="104.6" font-size="5.8" text-anchor="middle" fill="#111" stroke="#111" stroke-width="0.16">0</text>
<line x1="414.5" y1="93.4" x2="414.5" y2="95.2" stroke="#333" stroke-width="0.5"/>
<text x="414.5" y="104.6" font-size="5.8" text-anchor="middle" fill="#111" stroke="#111" stroke-width="0.16">5</text>
<line x1="448.0" y1="93.4" x2="448.0" y2="95.2" stroke="#333" stroke-width="0.5"/>
<text x="448.0" y="104.6" font-size="5.8" text-anchor="middle" fill="#111" stroke="#111" stroke-width="0.16">10</text>
<line x1="481.5" y1="93.4" x2="481.5" y2="95.2" stroke="#333" stroke-width="0.5"/>
<text x="481.5" y="104.6" font-size="5.8" text-anchor="middle" fill="#111" stroke="#111" stroke-width="0.16">15</text>
<line x1="515.0" y1="93.4" x2="515.0" y2="95.2" stroke="#333" stroke-width="0.5"/>
<text x="515.0" y="104.6" font-size="5.8" text-anchor="middle" fill="#111" stroke="#111" stroke-width="0.16">20</text>
<text x="448.6" y="113.0" font-size="5.5" text-anchor="middle" fill="#111" stroke="#111" stroke-width="0.18" textLength="45.2" lengthAdjust="spacingAndGlyphs">Incubation time (h)</text>
<text x="367.5" y="58.55" font-size="5.7" text-anchor="middle" fill="#111" stroke="#111" stroke-width="0.14" textLength="62.5" lengthAdjust="spacingAndGlyphs" transform="rotate(-90 367.5 58.55)">Surface CXCR4 (MFI)</text>
<polyline points="381.00,41.94 387.70,40.95 394.40,43.63 414.50,54.06 427.90,56.46 501.60,77.04" fill="none" stroke="#333" stroke-width="0.7"/>
<polyline points="381.00,41.51 387.70,40.67 394.40,39.26 414.50,45.60 427.90,40.53 501.60,41.23" fill="none" stroke="#333" stroke-width="0.7"/>
<line x1="394.4" y1="32.91100000000001" x2="394.4" y2="47.998000000000005" stroke="#222" stroke-width="0.5"/>
<line x1="392.79999999999995" y1="32.91100000000001" x2="396.0" y2="32.91100000000001" stroke="#222" stroke-width="0.5"/>
<line x1="392.79999999999995" y1="47.998000000000005" x2="396.0" y2="47.998000000000005" stroke="#222" stroke-width="0.5"/>
<line x1="501.6" y1="37.705000000000005" x2="501.6" y2="44.75500000000001" stroke="#222" stroke-width="0.5"/>
<line x1="500.0" y1="37.705000000000005" x2="503.20000000000005" y2="37.705000000000005" stroke="#222" stroke-width="0.5"/>
<line x1="500.0" y1="44.75500000000001" x2="503.20000000000005" y2="44.75500000000001" stroke="#222" stroke-width="0.5"/>
<line x1="427.9" y1="51.94600000000001" x2="427.9" y2="61.11100000000001" stroke="#222" stroke-width="0.5"/>
<line x1="426.29999999999995" y1="51.94600000000001" x2="429.5" y2="51.94600000000001" stroke="#222" stroke-width="0.5"/>
<line x1="426.29999999999995" y1="61.11100000000001" x2="429.5" y2="61.11100000000001" stroke="#222" stroke-width="0.5"/>
<line x1="381.0" y1="38.41000000000001" x2="381.0" y2="45.46000000000001" stroke="#222" stroke-width="0.5"/>
<line x1="379.4" y1="38.41000000000001" x2="382.6" y2="38.41000000000001" stroke="#222" stroke-width="0.5"/>
<line x1="379.4" y1="45.46000000000001" x2="382.6" y2="45.46000000000001" stroke="#222" stroke-width="0.5"/>
<line x1="387.7" y1="37.705000000000005" x2="387.7" y2="44.05000000000001" stroke="#222" stroke-width="0.5"/>
<line x1="386.09999999999997" y1="37.705000000000005" x2="389.3" y2="37.705000000000005" stroke="#222" stroke-width="0.5"/>
<line x1="386.09999999999997" y1="44.05000000000001" x2="389.3" y2="44.05000000000001" stroke="#222" stroke-width="0.5"/>
<line x1="414.5" y1="42.64000000000001" x2="414.5" y2="57.022000000000006" stroke="#222" stroke-width="0.5"/>
<line x1="412.9" y1="42.64000000000001" x2="416.1" y2="42.64000000000001" stroke="#222" stroke-width="0.5"/>
<line x1="412.9" y1="57.022000000000006" x2="416.1" y2="57.022000000000006" stroke="#222" stroke-width="0.5"/>
<circle cx="381.00" cy="41.51" r="2.3" fill="#fff" stroke="#222" stroke-width="0.75"/>
<circle cx="387.70" cy="40.67" r="2.3" fill="#fff" stroke="#222" stroke-width="0.75"/>
<circle cx="394.40" cy="39.26" r="2.3" fill="#fff" stroke="#222" stroke-width="0.75"/>
<circle cx="414.50" cy="45.60" r="2.3" fill="#fff" stroke="#222" stroke-width="0.75"/>
<circle cx="427.90" cy="40.53" r="2.3" fill="#fff" stroke="#222" stroke-width="0.75"/>
<circle cx="501.60" cy="41.23" r="2.3" fill="#fff" stroke="#222" stroke-width="0.75"/>
<rect x="378.70" y="39.64" width="4.6" height="4.6" rx="0.6" fill="#111"/>
<rect x="385.40" y="38.65" width="4.6" height="4.6" rx="0.6" fill="#111"/>
<rect x="392.10" y="41.33" width="4.6" height="4.6" rx="0.6" fill="#111"/>
<rect x="412.20" y="51.76" width="4.6" height="4.6" rx="0.6" fill="#111"/>
<rect x="425.60" y="54.16" width="4.6" height="4.6" rx="0.6" fill="#111"/>
<rect x="499.30" y="74.74" width="4.6" height="4.6" rx="0.6" fill="#111"/>
<line x1="386.4" y1="75.0" x2="399.4" y2="75.0" stroke="#333" stroke-width="0.6"/>
<circle cx="392.6" cy="75.0" r="1.8" fill="#fff" stroke="#222" stroke-width="0.6"/>
<text x="401.0" y="76.9" font-size="5.7" font-style="italic" text-anchor="start" fill="#111" stroke="#111" stroke-width="0.18" textLength="19.8" lengthAdjust="spacingAndGlyphs">medium</text>
<line x1="386.4" y1="84.0" x2="399.4" y2="84.0" stroke="#333" stroke-width="0.6"/>
<rect x="390.6" y="82.0" width="4" height="4" fill="#111"/>
<text x="401.0" y="85.9" font-size="5.5" font-style="italic" text-anchor="start" fill="#111" stroke="#111" stroke-width="0.18" textLength="16.0" lengthAdjust="spacingAndGlyphs">G-CSF</text>
<text x="358.4" y="138.4" font-size="12.0" text-anchor="start" fill="#111" stroke="#111" stroke-width="0.4" textLength="6.0" lengthAdjust="spacingAndGlyphs">F</text>
<text x="368.2" y="179.7" font-size="5.6" font-weight="bold" text-anchor="middle" fill="#111" stroke="#111" stroke-width="0.32" textLength="17.7" lengthAdjust="spacingAndGlyphs" transform="rotate(-90 368.2 179.7)">Events</text>
<line x1="375.3" y1="139.4" x2="375.3" y2="185.1" stroke="#666" stroke-width="0.7"/>
<path d="M376.00,184.61 L376.70,184.58 L377.40,184.40 L378.10,184.31 L378.80,184.01 L379.50,183.81 L380.20,183.64 L380.90,183.66 L381.60,183.57 L382.30,183.43 L383.00,183.16 L383.70,183.07 L384.40,183.03 L385.10,182.81 L385.80,182.94 L386.50,182.79 L387.20,182.93 L387.90,182.52 L388.60,181.93 L389.30,181.66 L390.00,181.38 L390.70,180.47 L391.40,179.46 L392.10,178.48 L392.80,177.22 L393.50,176.03 L394.20,174.81 L394.90,173.48 L395.60,171.82 L396.30,169.25 L397.00,166.71 L397.70,165.05 L398.40,162.85 L399.10,160.88 L399.80,159.85 L400.50,157.94 L401.20,156.47 L401.90,153.18 L402.60,151.54 L403.30,151.59 L404.00,151.52 L404.70,150.68 L405.40,151.24 L406.10,152.73 L406.80,153.91 L407.50,155.38 L408.20,157.62 L408.90,159.78 L409.60,161.57 L410.30,164.50 L411.00,166.74 L411.70,169.17 L412.40,172.03 L413.10,174.17 L413.80,176.24 L414.50,177.73 L415.20,179.06 L415.90,180.28 L416.60,180.98 L417.30,182.01 L418.00,182.66 L418.70,183.42 L419.40,183.98 L420.10,184.24 L420.80,184.43 L421.50,184.63 L422.20,184.73 L422.90,184.88 L423.60,184.94 L423.60,185.1 L376.00,185.1 Z" fill="#bdbdbd" stroke="#777" stroke-width="0.5" stroke-linejoin="round"/>
<path d="M376.00,184.40 L376.70,184.33 L377.40,184.25 L378.10,184.05 L378.80,183.94 L379.50,183.77 L380.20,183.64 L380.90,183.29 L381.60,183.12 L382.30,182.94 L383.00,182.77 L383.70,182.58 L384.40,182.39 L385.10,182.20 L385.80,181.97 L386.50,181.83 L387.20,181.75 L387.90,181.90 L388.60,181.60 L389.30,181.34 L390.00,181.14 L390.70,180.88 L391.40,180.21 L392.10,179.94 L392.80,178.67 L393.50,178.09 L394.20,177.45 L394.90,175.71 L395.60,174.39 L396.30,173.06 L397.00,172.31 L397.70,171.25 L398.40,169.30 L399.10,167.56 L399.80,165.36 L400.50,162.60 L401.20,161.64 L401.90,158.70 L402.60,157.10 L403.30,156.97 L404.00,156.91 L404.70,155.39 L405.40,153.40 L406.10,151.85 L406.80,152.50 L407.50,152.76 L408.20,154.72 L408.90,155.54 L409.60,156.29 L410.30,158.62 L411.00,160.40 L411.70,162.15 L412.40,163.09 L413.10,165.89 L413.80,168.06 L414.50,169.10 L415.20,170.49 L415.90,172.32 L416.60,174.40 L417.30,175.07 L418.00,175.74 L418.70,176.56 L419.40,177.88 L420.10,178.58 L420.80,179.28 L421.50,180.20 L422.20,181.26 L422.90,181.52 L423.60,181.94 L424.30,182.70 L425.00,183.08 L425.70,183.73 L426.40,184.00 L427.10,184.21 L427.80,184.53 L428.50,184.63 L429.20,184.76 L429.90,184.87 L430.60,185.00 L431.30,185.03 L432.00,185.05" fill="none" stroke="#555" stroke-width="0.6" stroke-linejoin="round"/>
<path d="M376.00,185.09 L376.70,185.09 L377.40,185.09 L378.10,185.09 L378.80,185.07 L379.50,185.06 L380.20,185.07 L380.90,185.01 L381.60,185.00 L382.30,184.97 L383.00,184.95 L383.70,184.89 L384.40,184.70 L385.10,184.67 L385.80,184.45 L386.50,184.29 L387.20,184.05 L387.90,183.45 L388.60,183.06 L389.30,182.30 L390.00,181.49 L390.70,180.89 L391.40,179.57 L392.10,178.52 L392.80,177.16 L393.50,175.62 L394.20,174.51 L394.90,172.37 L395.60,170.45 L396.30,168.35 L397.00,166.24 L397.70,164.01 L398.40,160.66 L399.10,159.14 L399.80,156.60 L400.50,154.95 L401.20,152.42 L401.90,151.75 L402.60,151.31 L403.30,152.30 L404.00,152.31 L404.70,151.39 L405.40,151.19 L406.10,152.68 L406.80,154.76 L407.50,156.60 L408.20,160.19 L408.90,161.39 L409.60,162.77 L410.30,164.72 L411.00,166.58 L411.70,169.65 L412.40,171.99 L413.10,174.25 L413.80,176.14 L414.50,177.79 L415.20,179.26 L415.90,180.33 L416.60,181.39 L417.30,181.95 L418.00,182.68 L418.70,183.50 L419.40,184.02 L420.10,184.12 L420.80,184.46 L421.50,184.55 L422.20,184.76 L422.90,184.83 L423.60,184.93 L424.30,184.96 L425.00,185.03 L425.70,185.04 L426.40,185.06 L427.10,185.08 L427.80,185.08" fill="none" stroke="#333" stroke-width="0.6" stroke-linejoin="round"/>
<path d="M400.00,185.10 L400.70,185.10 L401.40,185.10 L402.10,185.10 L402.80,185.10 L403.50,185.10 L404.20,185.10 L404.90,185.09 L405.60,185.09 L406.30,185.07 L407.00,185.06 L407.70,185.07 L408.40,185.05 L409.10,184.99 L409.80,184.97 L410.50,184.89 L411.20,184.81 L411.90,184.70 L412.60,184.55 L413.30,184.38 L414.00,184.07 L414.70,183.72 L415.40,183.59 L416.10,183.03 L416.80,182.72 L417.50,182.23 L418.20,181.77 L418.90,181.16 L419.60,180.24 L420.30,179.36 L421.00,178.34 L421.70,177.00 L422.40,175.93 L423.10,174.33 L423.80,172.77 L424.50,169.89 L425.20,166.88 L425.90,163.77 L426.60,159.84 L427.30,157.14 L428.00,155.10 L428.70,152.92 L429.40,151.15 L430.10,150.62 L430.80,151.24 L431.50,151.15 L432.20,150.65 L432.90,153.98 L433.60,158.05 L434.30,160.24 L435.00,163.33 L435.70,165.86 L436.40,168.51 L437.10,170.79 L437.80,172.24 L438.50,175.04 L439.20,176.75 L439.90,177.83 L440.60,178.55 L441.30,179.66 L442.00,180.64 L442.70,181.04 L443.40,181.45 L444.10,181.67 L444.80,181.84 L445.50,182.14 L446.20,182.35 L446.90,182.77 L447.60,183.10 L448.30,183.30 L449.00,183.53 L449.70,183.64 L450.40,183.77 L451.10,183.98 L451.80,184.17 L452.50,184.30 L453.20,184.52 L453.90,184.66 L454.60,184.66 L455.30,184.78 L456.00,184.85 L456.70,184.92 L457.40,185.00 L458.10,184.99 L458.80,185.02 L459.50,185.05 L460.20,185.08 L460.90,185.09 L461.60,185.08 L462.30,185.09 L463.00,185.09 L463.70,185.09 L464.40,185.10 L465.10,185.10 L465.80,185.10 L466.50,185.10 L467.20,185.10 L467.90,185.10 L468.60,185.10 L469.30,185.10 L470.00,185.10 L470.70,185.10 L471.40,185.10 L472.10,185.10 L472.80,185.10 L473.50,185.10 L474.20,185.10 L474.90,185.10 L475.60,185.10 L476.30,185.10 L477.00,185.10 L477.70,185.10 L478.40,185.10 L479.10,185.10 L479.80,185.10 L480.50,185.10 L481.20,185.10 L481.90,185.10" fill="none" stroke="#222" stroke-width="0.8" stroke-linejoin="round"/>
<path d="M400.00,185.10 L400.70,185.10 L401.40,185.10 L402.10,185.10 L402.80,185.10 L403.50,185.10 L404.20,185.10 L404.90,185.10 L405.60,185.09 L406.30,185.08 L407.00,185.09 L407.70,185.07 L408.40,185.04 L409.10,185.01 L409.80,185.00 L410.50,184.94 L411.20,184.83 L411.90,184.80 L412.60,184.67 L413.30,184.41 L414.00,184.22 L414.70,184.00 L415.40,183.56 L416.10,183.26 L416.80,182.97 L417.50,182.34 L418.20,181.97 L418.90,181.36 L419.60,180.88 L420.30,180.05 L421.00,178.79 L421.70,177.97 L422.40,176.90 L423.10,175.53 L423.80,173.52 L424.50,170.63 L425.20,168.17 L425.90,165.86 L426.60,162.65 L427.30,160.30 L428.00,157.85 L428.70,155.21 L429.40,153.35 L430.10,152.08 L430.80,151.08 L431.50,151.48 L432.20,152.83 L432.90,153.23 L433.60,155.26 L434.30,158.30 L435.00,161.59 L435.70,163.52 L436.40,165.72 L437.10,168.61 L437.80,171.17 L438.50,172.69 L439.20,175.03 L439.90,176.50 L440.60,177.77 L441.30,178.88 L442.00,179.34 L442.70,180.28 L443.40,180.83 L444.10,181.30 L444.80,181.57 L445.50,181.88 L446.20,181.97 L446.90,182.36 L447.60,182.44 L448.30,182.74 L449.00,183.08 L449.70,183.29 L450.40,183.54 L451.10,183.85 L451.80,184.03 L452.50,184.21 L453.20,184.23 L453.90,184.48 L454.60,184.65 L455.30,184.72 L456.00,184.83 L456.70,184.85 L457.40,184.93 L458.10,184.95 L458.80,185.01 L459.50,185.04 L460.20,185.04 L460.90,185.05 L461.60,185.08 L462.30,185.09 L463.00,185.09 L463.70,185.08 L464.40,185.09 L465.10,185.10 L465.80,185.10 L466.50,185.10 L467.20,185.10 L467.90,185.10 L468.60,185.10 L469.30,185.10 L470.00,185.10 L470.70,185.10 L471.40,185.10 L472.10,185.10 L472.80,185.10 L473.50,185.10 L474.20,185.10 L474.90,185.10 L475.60,185.10 L476.30,185.10 L477.00,185.10 L477.70,185.10 L478.40,185.10 L479.10,185.10 L479.80,185.10 L480.50,185.10 L481.20,185.10 L481.90,185.10" fill="none" stroke="#666" stroke-width="0.55" stroke-linejoin="round"/>
<line x1="375.3" y1="185.1" x2="482.4" y2="185.1" stroke="#888" stroke-width="0.6"/>
<text x="379.8" y="151.7" font-size="6.2" text-anchor="start" fill="#111" stroke="#111" stroke-width="0.32" textLength="18.4" lengthAdjust="spacingAndGlyphs">G-CSF</text>
<line x1="388.7" y1="152.9" x2="396.70" y2="157.41" stroke="#111" stroke-width="0.72"/>
<polygon points="399.00,158.70 395.53,158.46 397.00,155.86" fill="#111"/>
<text x="403.3" y="144.2" font-size="6.2" text-anchor="start" fill="#111" stroke="#111" stroke-width="0.32" textLength="22.0" lengthAdjust="spacingAndGlyphs">G-CSF+</text>
<text x="407.8" y="151.5" font-size="6.4" text-anchor="start" fill="#111" stroke="#111" stroke-width="0.32" textLength="14.0" lengthAdjust="spacingAndGlyphs">wash</text>
<line x1="414.5" y1="152.9" x2="412.85" y2="160.62" stroke="#111" stroke-width="0.72"/>
<polygon points="412.30,163.20 411.49,159.82 414.42,160.45" fill="#111"/>
<text x="443.0" y="157.5" font-size="6.4" text-anchor="start" fill="#111" stroke="#111" stroke-width="0.32" textLength="13.3" lengthAdjust="spacingAndGlyphs">none</text>
<line x1="446.6" y1="159.6" x2="441.11" y2="163.72" stroke="#111" stroke-width="0.72"/>
<polygon points="439.00,165.30 440.61,162.22 442.41,164.61" fill="#111"/>
<line x1="375.5" y1="191.2" x2="375.5" y2="235.8" stroke="#666" stroke-width="0.7"/>
<path d="M377.00,235.65 L377.70,235.59 L378.40,235.59 L379.10,235.45 L379.80,235.45 L380.50,235.35 L381.20,235.20 L381.90,235.05 L382.60,234.79 L383.30,234.59 L384.00,234.43 L384.70,234.29 L385.40,234.19 L386.10,233.69 L386.80,233.03 L387.50,232.73 L388.20,232.14 L388.90,231.34 L389.60,230.89 L390.30,230.51 L391.00,229.81 L391.70,228.48 L392.40,227.66 L393.10,226.71 L393.80,225.58 L394.50,224.21 L395.20,222.98 L395.90,222.12 L396.60,221.92 L397.30,219.24 L398.00,217.02 L398.70,216.57 L399.40,216.46 L400.10,214.87 L400.80,212.13 L401.50,212.01 L402.20,212.83 L402.90,211.40 L403.60,210.95 L404.30,208.70 L405.00,208.62 L405.70,207.49 L406.40,207.71 L407.10,208.53 L407.80,208.99 L408.50,210.60 L409.20,213.62 L409.90,215.42 L410.60,217.11 L411.30,219.21 L412.00,221.88 L412.70,223.82 L413.40,225.84 L414.10,228.32 L414.80,229.82 L415.50,231.47 L416.20,232.27 L416.90,233.11 L417.60,233.91 L418.30,234.51 L419.00,235.02 L419.70,235.21 L420.40,235.32 L421.10,235.47 L421.80,235.61 L422.50,235.70 L423.20,235.71 L423.90,235.77 L424.60,235.76 L424.60,235.8 L377.00,235.8 Z" fill="#b5b5b5" stroke="#444" stroke-width="0.6" stroke-linejoin="round"/>
<path d="M385.00,235.80 L385.70,235.80 L386.40,235.80 L387.10,235.80 L387.80,235.80 L388.50,235.80 L389.20,235.80 L389.90,235.78 L390.60,235.79 L391.30,235.76 L392.00,235.75 L392.70,235.72 L393.40,235.69 L394.10,235.59 L394.80,235.50 L395.50,235.35 L396.20,235.19 L396.90,234.93 L397.60,234.47 L398.30,234.04 L399.00,233.43 L399.70,232.27 L400.40,231.38 L401.10,230.03 L401.80,228.04 L402.50,225.93 L403.20,223.68 L403.90,222.46 L404.60,220.25 L405.30,217.57 L406.00,215.64 L406.70,212.93 L407.40,210.03 L408.10,208.73 L408.80,207.85 L409.50,206.81 L410.20,206.54 L410.90,206.07 L411.60,207.41 L412.30,209.85 L413.00,212.20 L413.70,214.54 L414.40,216.85 L415.10,220.03 L415.80,222.88 L416.50,225.07 L417.20,227.42 L417.90,229.37 L418.60,230.74 L419.30,232.17 L420.00,233.13 L420.70,233.95 L421.40,234.45 L422.10,235.03 L422.80,235.24 L423.50,235.41 L424.20,235.59 L424.90,235.65 L425.60,235.74 L426.30,235.74 L427.00,235.78 L427.70,235.79 L428.40,235.79 L429.10,235.79 L429.80,235.80" fill="none" stroke="#777" stroke-width="0.6" stroke-linejoin="round"/>
<path d="M385.00,235.80 L385.70,235.80 L386.40,235.80 L387.10,235.80 L387.80,235.80 L388.50,235.80 L389.20,235.80 L389.90,235.79 L390.60,235.80 L391.30,235.80 L392.00,235.78 L392.70,235.78 L393.40,235.78 L394.10,235.73 L394.80,235.73 L395.50,235.71 L396.20,235.69 L396.90,235.57 L397.60,235.56 L398.30,235.40 L399.00,235.18 L399.70,235.11 L400.40,234.82 L401.10,234.50 L401.80,234.00 L402.50,233.55 L403.20,233.02 L403.90,232.25 L404.60,231.28 L405.30,230.23 L406.00,229.18 L406.70,227.40 L407.40,225.87 L408.10,224.47 L408.80,223.48 L409.50,221.17 L410.20,219.85 L410.90,218.24 L411.60,217.46 L412.30,216.39 L413.00,216.24 L413.70,214.54 L414.40,213.49 L415.10,212.91 L415.80,211.86 L416.50,213.84 L417.20,215.57 L417.90,216.80 L418.60,218.94 L419.30,220.63 L420.00,222.46 L420.70,225.38 L421.40,227.83 L422.10,229.15 L422.80,230.98 L423.50,232.03 L424.20,232.95 L424.90,233.78 L425.60,234.54 L426.30,234.82 L427.00,235.27 L427.70,235.50 L428.40,235.59 L429.10,235.68 L429.80,235.70 L430.50,235.75 L431.20,235.79 L431.90,235.79 L432.60,235.79 L433.30,235.80 L434.00,235.80 L434.70,235.80 L435.40,235.80 L436.10,235.80 L436.80,235.80 L437.50,235.80 L438.20,235.80 L438.90,235.80 L439.60,235.80" fill="none" stroke="#777" stroke-width="0.6" stroke-linejoin="round"/>
<path d="M405.00,235.80 L405.70,235.80 L406.40,235.80 L407.10,235.80 L407.80,235.80 L408.50,235.80 L409.20,235.80 L409.90,235.80 L410.60,235.80 L411.30,235.80 L412.00,235.80 L412.70,235.79 L413.40,235.79 L414.10,235.75 L414.80,235.73 L415.50,235.71 L416.20,235.67 L416.90,235.55 L417.60,235.47 L418.30,235.30 L419.00,235.06 L419.70,234.90 L420.40,234.52 L421.10,233.97 L421.80,233.66 L422.50,232.78 L423.20,231.75 L423.90,230.41 L424.60,228.76 L425.30,227.10 L426.00,224.99 L426.70,222.99 L427.40,220.81 L428.10,219.46 L428.80,217.42 L429.50,214.84 L430.20,213.17 L430.90,210.05 L431.60,207.85 L432.30,206.50 L433.00,204.77 L433.70,202.53 L434.40,200.92 L435.10,202.17 L435.80,203.43 L436.50,205.33 L437.20,207.90 L437.90,208.82 L438.60,210.86 L439.30,214.90 L440.00,218.89 L440.70,220.03 L441.40,221.99 L442.10,224.87 L442.80,226.97 L443.50,228.42 L444.20,229.41 L444.90,230.15 L445.60,230.87 L446.30,231.68 L447.00,232.49 L447.70,232.51 L448.40,232.81 L449.10,233.36 L449.80,233.57 L450.50,233.78 L451.20,233.72 L451.90,234.15 L452.60,234.34 L453.30,234.58 L454.00,234.68 L454.70,234.77 L455.40,235.04 L456.10,235.17 L456.80,235.23 L457.50,235.38 L458.20,235.41 L458.90,235.58 L459.60,235.58 L460.30,235.67 L461.00,235.71 L461.70,235.73 L462.40,235.74 L463.10,235.76 L463.80,235.77 L464.50,235.78 L465.20,235.79 L465.90,235.80 L466.60,235.79 L467.30,235.80 L468.00,235.79 L468.70,235.80 L469.40,235.80 L470.10,235.80 L470.80,235.80 L471.50,235.80 L472.20,235.80 L472.90,235.80 L473.60,235.80 L474.30,235.80 L475.00,235.80 L475.70,235.80 L476.40,235.80 L477.10,235.80 L477.80,235.80 L478.50,235.80 L479.20,235.80 L479.90,235.80 L480.60,235.80 L481.30,235.80 L482.00,235.80 L482.70,235.80 L483.40,235.80 L484.10,235.80 L484.80,235.80 L485.50,235.80 L486.20,235.80 L486.90,235.80 L487.60,235.80 L488.30,235.80 L489.00,235.80 L489.70,235.80 L490.40,235.80 L491.10,235.80 L491.80,235.80 L492.50,235.80 L493.20,235.80 L493.90,235.80 L494.60,235.80 L495.30,235.80 L496.00,235.80 L496.70,235.80 L497.40,235.80" fill="none" stroke="#222" stroke-width="0.8" stroke-linejoin="round"/>
<path d="M405.00,235.80 L405.70,235.80 L406.40,235.80 L407.10,235.80 L407.80,235.80 L408.50,235.80 L409.20,235.80 L409.90,235.80 L410.60,235.80 L411.30,235.80 L412.00,235.79 L412.70,235.78 L413.40,235.78 L414.10,235.77 L414.80,235.77 L415.50,235.74 L416.20,235.67 L416.90,235.63 L417.60,235.54 L418.30,235.40 L419.00,235.22 L419.70,235.10 L420.40,234.71 L421.10,234.46 L421.80,233.79 L422.50,233.25 L423.20,232.19 L423.90,231.35 L424.60,230.32 L425.30,228.81 L426.00,226.73 L426.70,225.15 L427.40,223.70 L428.10,221.13 L428.80,218.10 L429.50,215.94 L430.20,214.27 L430.90,212.70 L431.60,210.67 L432.30,208.53 L433.00,207.63 L433.70,205.92 L434.40,205.23 L435.10,204.85 L435.80,203.41 L436.50,204.20 L437.20,205.49 L437.90,207.45 L438.60,209.76 L439.30,212.48 L440.00,215.45 L440.70,218.49 L441.40,221.08 L442.10,222.77 L442.80,224.70 L443.50,226.25 L444.20,227.69 L444.90,228.93 L445.60,230.16 L446.30,230.94 L447.00,231.36 L447.70,232.04 L448.40,232.43 L449.10,232.73 L449.80,233.18 L450.50,233.34 L451.20,233.58 L451.90,233.76 L452.60,233.99 L453.30,234.22 L454.00,234.53 L454.70,234.73 L455.40,234.91 L456.10,234.97 L456.80,235.04 L457.50,235.24 L458.20,235.38 L458.90,235.48 L459.60,235.50 L460.30,235.63 L461.00,235.62 L461.70,235.65 L462.40,235.73 L463.10,235.72 L463.80,235.73 L464.50,235.75 L465.20,235.76 L465.90,235.79 L466.60,235.80 L467.30,235.80 L468.00,235.79 L468.70,235.80 L469.40,235.80 L470.10,235.80 L470.80,235.80 L471.50,235.80 L472.20,235.80 L472.90,235.80 L473.60,235.80 L474.30,235.80 L475.00,235.80 L475.70,235.80 L476.40,235.80 L477.10,235.80 L477.80,235.80 L478.50,235.80 L479.20,235.80 L479.90,235.80 L480.60,235.80 L481.30,235.80 L482.00,235.80 L482.70,235.80 L483.40,235.80 L484.10,235.80 L484.80,235.80 L485.50,235.80 L486.20,235.80 L486.90,235.80 L487.60,235.80 L488.30,235.80 L489.00,235.80 L489.70,235.80 L490.40,235.80 L491.10,235.80 L491.80,235.80 L492.50,235.80 L493.20,235.80 L493.90,235.80 L494.60,235.80 L495.30,235.80 L496.00,235.80 L496.70,235.80 L497.40,235.80" fill="none" stroke="#666" stroke-width="0.55" stroke-linejoin="round"/>
<line x1="375.5" y1="235.8" x2="498" y2="235.8" stroke="#888" stroke-width="0.6"/>
<text x="383.4" y="200.5" font-size="6.1" text-anchor="start" fill="#111" stroke="#111" stroke-width="0.32" textLength="16.6" lengthAdjust="spacingAndGlyphs">SDF-1</text>
<line x1="397.8" y1="201.1" x2="405.05" y2="204.80" stroke="#111" stroke-width="0.72"/>
<polygon points="407.40,206.00 403.93,205.91 405.29,203.24" fill="#111"/>
<text x="412.4" y="196.9" font-size="6.0" text-anchor="start" fill="#111" stroke="#111" stroke-width="0.32" textLength="19.6" lengthAdjust="spacingAndGlyphs">SDF-1+</text>
<text x="415.4" y="204.1" font-size="6.3" text-anchor="start" fill="#111" stroke="#111" stroke-width="0.32" textLength="13.6" lengthAdjust="spacingAndGlyphs">wash</text>
<line x1="422.6" y1="206.0" x2="421.24" y2="212.42" stroke="#111" stroke-width="0.72"/>
<polygon points="420.70,215.00 419.89,211.62 422.81,212.24" fill="#111"/>
<text x="448.9" y="213.5" font-size="6.4" text-anchor="start" fill="#111" stroke="#111" stroke-width="0.32" textLength="12.0" lengthAdjust="spacingAndGlyphs">none</text>
<line x1="450.1" y1="214.2" x2="443.92" y2="219.40" stroke="#111" stroke-width="0.72"/>
<polygon points="441.90,221.10 443.34,217.94 445.26,220.22" fill="#111"/>
<text x="375.0" y="242.8" font-size="4.5" text-anchor="start" fill="#111" stroke="#111" stroke-width="0.2">10<tspan dy="-1.4" font-size="3.24">0</tspan></text>
<text x="413.4" y="242.8" font-size="4.5" text-anchor="start" fill="#111" stroke="#111" stroke-width="0.2">10<tspan dy="-1.4" font-size="3.24">1</tspan></text>
<text x="450.0" y="242.8" font-size="4.5" text-anchor="start" fill="#111" stroke="#111" stroke-width="0.2">10<tspan dy="-1.4" font-size="3.24">2</tspan></text>
<text x="488.0" y="242.8" font-size="4.5" text-anchor="start" fill="#111" stroke="#111" stroke-width="0.2">10<tspan dy="-1.4" font-size="3.24">3</tspan></text>
<text x="421.7" y="246.6" font-size="6.1" font-weight="bold" text-anchor="start" fill="#111" stroke="#111" stroke-width="0.32" textLength="20.6" lengthAdjust="spacingAndGlyphs">CXCR4</text>
</svg>
</body></html>
